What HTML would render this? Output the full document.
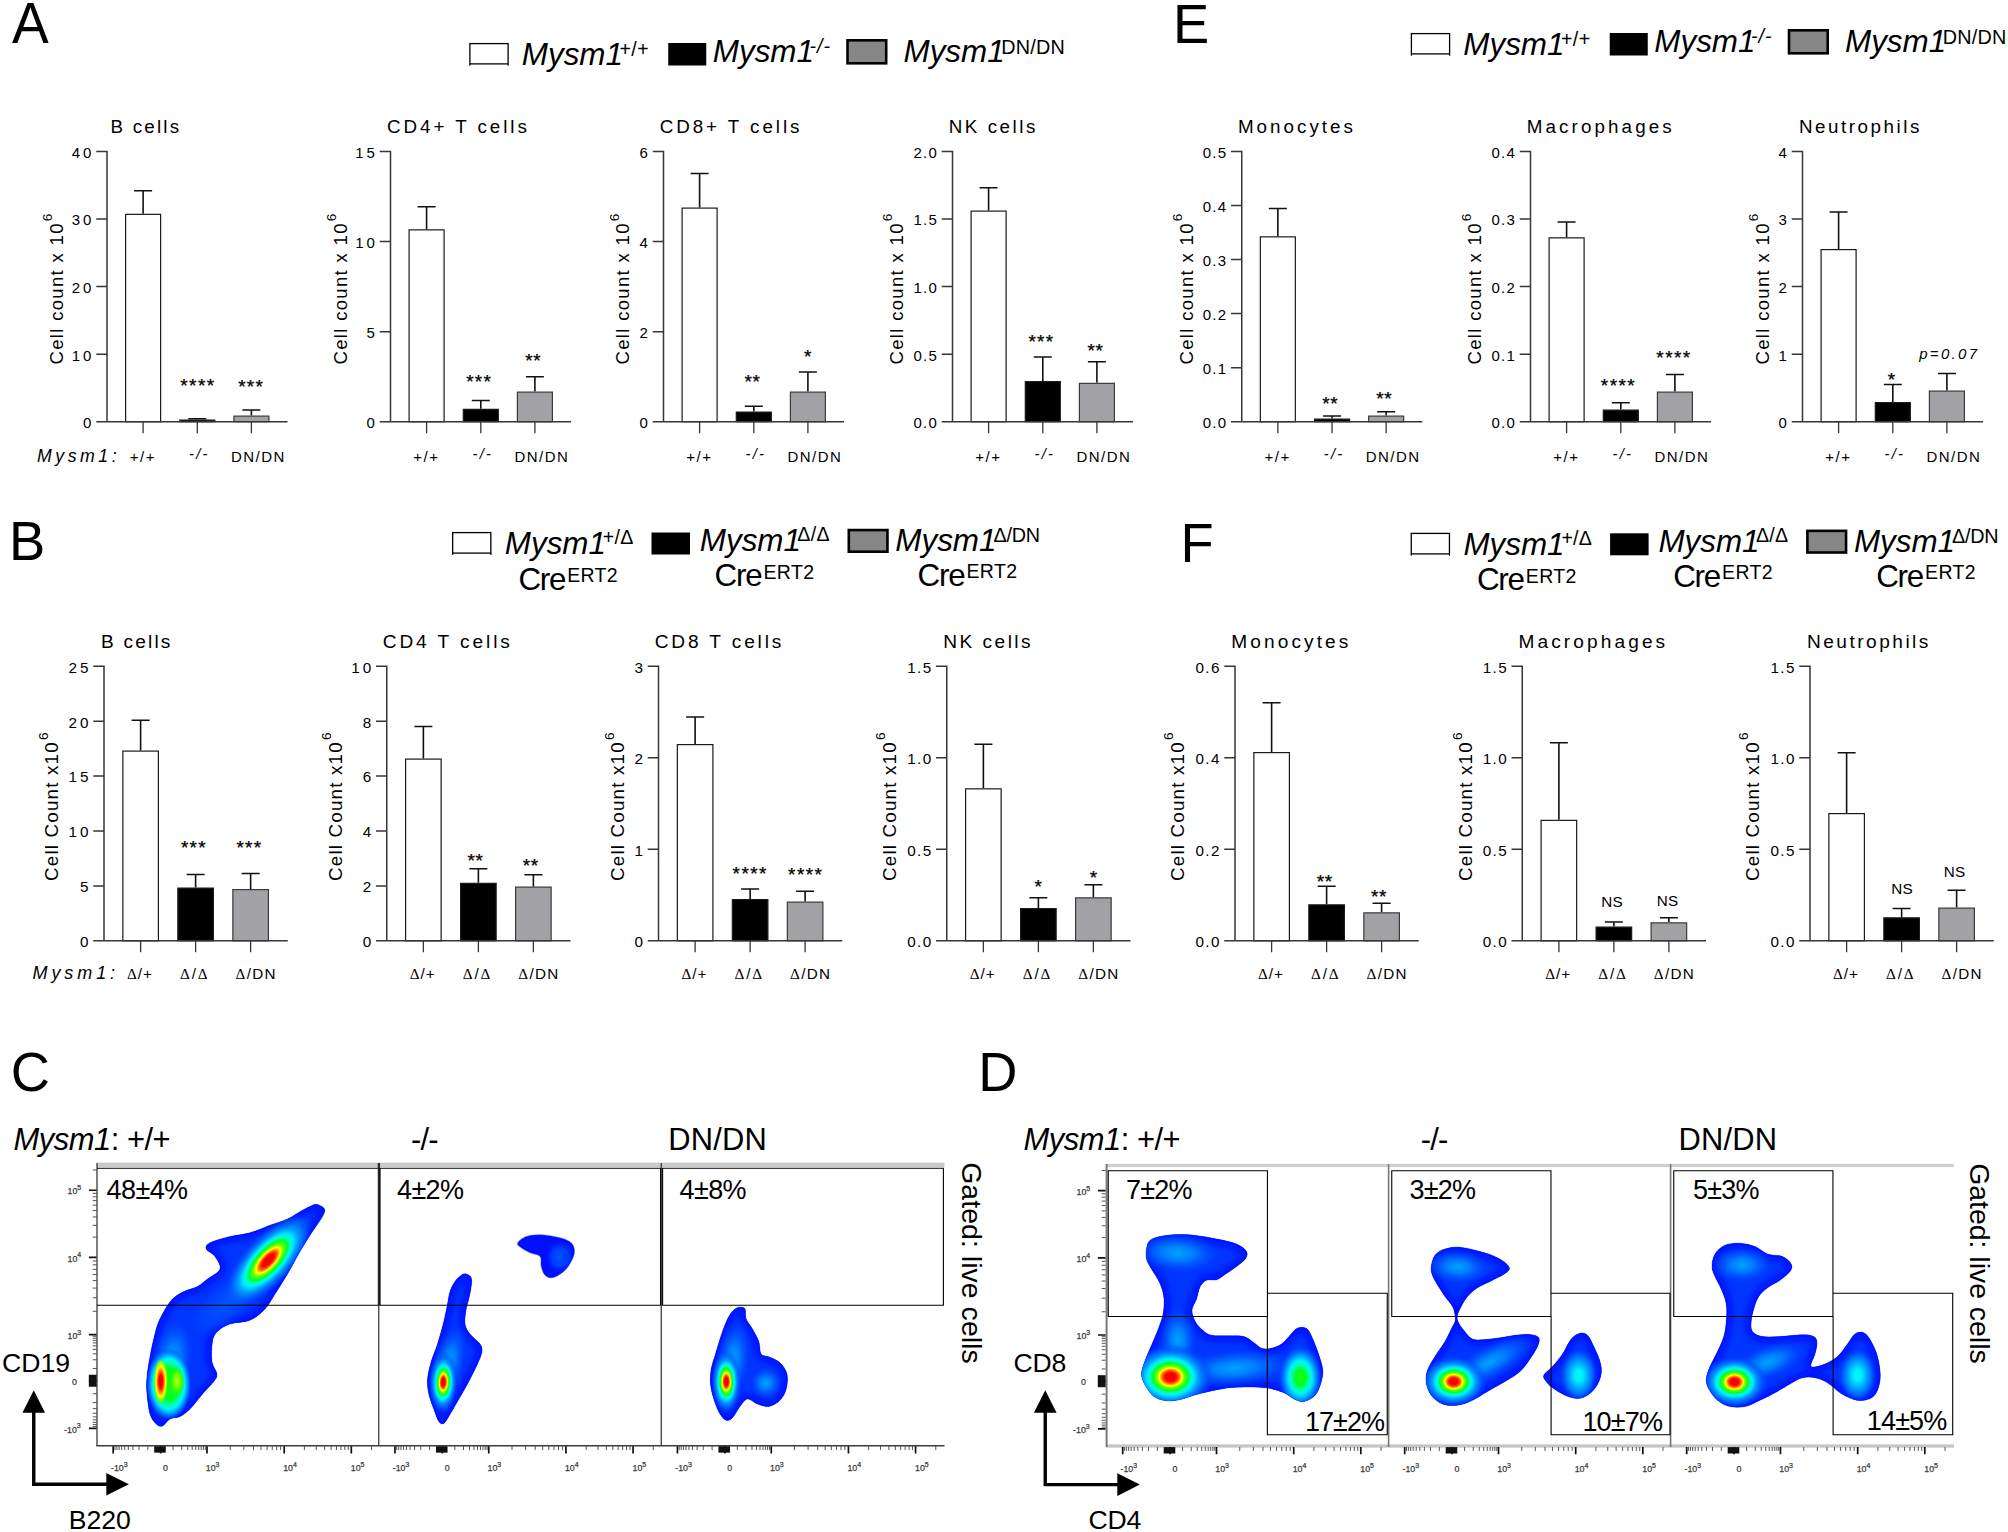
<!DOCTYPE html>
<html lang="en"><head><meta charset="utf-8"><title>Figure</title>
<style>html,body{margin:0;padding:0;background:#fff}svg{display:block}text{white-space:pre}</style>
</head><body>
<svg width="2008" height="1532" viewBox="0 0 2008 1532" font-family="'Liberation Sans', Arial, Helvetica, sans-serif" fill="#000">
<rect width="2008" height="1532" fill="#fff"/>
<path d="M143.10 213.75V190.75M134.10 190.75H152.10" stroke="#111" stroke-width="1.6" fill="none"/>
<rect x="125.60" y="214.35" width="35.00" height="207.35" fill="#fff" stroke="#1a1a1a" stroke-width="1.2"/>
<path d="M197.30 419.50V418.75M188.30 418.75H206.30" stroke="#111" stroke-width="1.6" fill="none"/>
<rect x="179.80" y="420.10" width="35.00" height="1.60" fill="#000" stroke="#1a1a1a" stroke-width="1.2"/>
<path d="M251.40 415.50V410.00M242.40 410.00H260.40" stroke="#111" stroke-width="1.6" fill="none"/>
<rect x="233.90" y="416.10" width="35.00" height="5.60" fill="#a2a2a6" stroke="#3a3a3a" stroke-width="1.2"/>
<path d="M107.00 150.80V421.70M96.25 421.70H287.50M96.25 151.50H107.00M96.25 219.05H107.00M96.25 286.60H107.00M96.25 354.15H107.00" stroke="#363636" stroke-width="1.5" fill="none"/>
<path d="M143.10 421.70V433.20M197.30 421.70V433.20M251.40 421.70V433.20" stroke="#363636" stroke-width="1.3" fill="none"/>
<text x="94.30" y="157.85" font-size="15.0" text-anchor="end" letter-spacing="2.9">40</text>
<text x="94.30" y="225.40" font-size="15.0" text-anchor="end" letter-spacing="2.9">30</text>
<text x="94.30" y="292.95" font-size="15.0" text-anchor="end" letter-spacing="2.9">20</text>
<text x="94.30" y="360.50" font-size="15.0" text-anchor="end" letter-spacing="2.9">10</text>
<text x="94.30" y="428.05" font-size="15.0" text-anchor="end" letter-spacing="2.9">0</text>
<text x="110.45" y="133.40" font-size="18.8" textLength="68.70" lengthAdjust="spacing">B cells</text>
<text x="129.70" y="461.60" font-size="15.0" textLength="24.70" lengthAdjust="spacing">+/+</text>
<text x="189.10" y="459.00" font-size="14.6" font-style="italic" textLength="18.20" lengthAdjust="spacing">-/-</text>
<text x="231.00" y="461.60" font-size="15.0" textLength="53.40" lengthAdjust="spacing">DN/DN</text>
<text x="37.00" y="461.60" font-size="17.7" font-style="italic" textLength="79.60" lengthAdjust="spacing">Mysm1:</text>
<g transform="translate(62.50 364.50) rotate(-90)">
<text x="0.00" y="0.00" font-size="18.5" textLength="141.00" lengthAdjust="spacing">Cell count x 10</text>
<text x="143.20" y="-10.45" font-size="13.5">6</text>
</g>
<text x="180.25" y="392.20" font-size="19.0" textLength="33.90" lengthAdjust="spacing" stroke="#000" stroke-width="0.25">****</text>
<text x="238.20" y="392.50" font-size="19.0" textLength="24.60" lengthAdjust="spacing" stroke="#000" stroke-width="0.25">***</text>
<path d="M426.60 229.25V206.75M417.60 206.75H435.60" stroke="#111" stroke-width="1.6" fill="none"/>
<rect x="409.10" y="229.85" width="35.00" height="191.85" fill="#fff" stroke="#1a1a1a" stroke-width="1.2"/>
<path d="M480.80 408.75V400.50M471.80 400.50H489.80" stroke="#111" stroke-width="1.6" fill="none"/>
<rect x="463.30" y="409.35" width="35.00" height="12.35" fill="#000" stroke="#1a1a1a" stroke-width="1.2"/>
<path d="M534.90 391.50V376.75M525.90 376.75H543.90" stroke="#111" stroke-width="1.6" fill="none"/>
<rect x="517.40" y="392.10" width="35.00" height="29.60" fill="#a2a2a6" stroke="#3a3a3a" stroke-width="1.2"/>
<path d="M390.50 150.80V421.70M379.75 421.70H571.00M379.75 151.50H390.50M379.75 241.57H390.50M379.75 331.63H390.50" stroke="#363636" stroke-width="1.5" fill="none"/>
<path d="M426.60 421.70V433.20M480.80 421.70V433.20M534.90 421.70V433.20" stroke="#363636" stroke-width="1.3" fill="none"/>
<text x="377.80" y="157.85" font-size="15.0" text-anchor="end" letter-spacing="2.9">15</text>
<text x="377.80" y="247.92" font-size="15.0" text-anchor="end" letter-spacing="2.9">10</text>
<text x="377.80" y="337.98" font-size="15.0" text-anchor="end" letter-spacing="2.9">5</text>
<text x="377.80" y="428.05" font-size="15.0" text-anchor="end" letter-spacing="2.9">0</text>
<text x="386.95" y="133.40" font-size="18.8" textLength="139.95" lengthAdjust="spacing">CD4+ T cells</text>
<text x="413.20" y="461.60" font-size="15.0" textLength="24.70" lengthAdjust="spacing">+/+</text>
<text x="472.60" y="459.00" font-size="14.6" font-style="italic" textLength="18.20" lengthAdjust="spacing">-/-</text>
<text x="514.50" y="461.60" font-size="15.0" textLength="53.40" lengthAdjust="spacing">DN/DN</text>
<g transform="translate(346.50 364.50) rotate(-90)">
<text x="0.00" y="0.00" font-size="18.5" textLength="141.00" lengthAdjust="spacing">Cell count x 10</text>
<text x="143.20" y="-10.45" font-size="13.5">6</text>
</g>
<text x="466.20" y="388.20" font-size="19.0" textLength="24.60" lengthAdjust="spacing" stroke="#000" stroke-width="0.25">***</text>
<text x="525.35" y="367.20" font-size="19.0" textLength="15.30" lengthAdjust="spacing" stroke="#000" stroke-width="0.25">**</text>
<path d="M699.60 207.50V173.50M690.60 173.50H708.60" stroke="#111" stroke-width="1.6" fill="none"/>
<rect x="682.10" y="208.10" width="35.00" height="213.60" fill="#fff" stroke="#1a1a1a" stroke-width="1.2"/>
<path d="M753.80 411.50V406.25M744.80 406.25H762.80" stroke="#111" stroke-width="1.6" fill="none"/>
<rect x="736.30" y="412.10" width="35.00" height="9.60" fill="#000" stroke="#1a1a1a" stroke-width="1.2"/>
<path d="M807.90 391.50V372.00M798.90 372.00H816.90" stroke="#111" stroke-width="1.6" fill="none"/>
<rect x="790.40" y="392.10" width="35.00" height="29.60" fill="#a2a2a6" stroke="#3a3a3a" stroke-width="1.2"/>
<path d="M663.50 150.80V421.70M652.75 421.70H844.00M652.75 151.50H663.50M652.75 241.57H663.50M652.75 331.63H663.50" stroke="#363636" stroke-width="1.5" fill="none"/>
<path d="M699.60 421.70V433.20M753.80 421.70V433.20M807.90 421.70V433.20" stroke="#363636" stroke-width="1.3" fill="none"/>
<text x="650.80" y="157.85" font-size="15.0" text-anchor="end" letter-spacing="2.9">6</text>
<text x="650.80" y="247.92" font-size="15.0" text-anchor="end" letter-spacing="2.9">4</text>
<text x="650.80" y="337.98" font-size="15.0" text-anchor="end" letter-spacing="2.9">2</text>
<text x="650.80" y="428.05" font-size="15.0" text-anchor="end" letter-spacing="2.9">0</text>
<text x="659.70" y="133.40" font-size="18.8" textLength="139.70" lengthAdjust="spacing">CD8+ T cells</text>
<text x="686.20" y="461.60" font-size="15.0" textLength="24.70" lengthAdjust="spacing">+/+</text>
<text x="745.60" y="459.00" font-size="14.6" font-style="italic" textLength="18.20" lengthAdjust="spacing">-/-</text>
<text x="787.50" y="461.60" font-size="15.0" textLength="53.40" lengthAdjust="spacing">DN/DN</text>
<g transform="translate(629.25 364.50) rotate(-90)">
<text x="0.00" y="0.00" font-size="18.5" textLength="141.00" lengthAdjust="spacing">Cell count x 10</text>
<text x="143.20" y="-10.45" font-size="13.5">6</text>
</g>
<text x="744.60" y="388.20" font-size="19.0" textLength="15.30" lengthAdjust="spacing" stroke="#000" stroke-width="0.25">**</text>
<text x="804.00" y="363.20" font-size="19.0" stroke="#000" stroke-width="0.25">*</text>
<path d="M988.60 210.50V187.75M979.60 187.75H997.60" stroke="#111" stroke-width="1.6" fill="none"/>
<rect x="971.10" y="211.10" width="35.00" height="210.60" fill="#fff" stroke="#1a1a1a" stroke-width="1.2"/>
<path d="M1042.80 381.00V357.00M1033.80 357.00H1051.80" stroke="#111" stroke-width="1.6" fill="none"/>
<rect x="1025.30" y="381.60" width="35.00" height="40.10" fill="#000" stroke="#1a1a1a" stroke-width="1.2"/>
<path d="M1096.90 382.75V361.75M1087.90 361.75H1105.90" stroke="#111" stroke-width="1.6" fill="none"/>
<rect x="1079.40" y="383.35" width="35.00" height="38.35" fill="#a2a2a6" stroke="#3a3a3a" stroke-width="1.2"/>
<path d="M952.50 150.80V421.70M941.75 421.70H1133.00M941.75 151.50H952.50M941.75 219.05H952.50M941.75 286.60H952.50M941.75 354.15H952.50" stroke="#363636" stroke-width="1.5" fill="none"/>
<path d="M988.60 421.70V433.20M1042.80 421.70V433.20M1096.90 421.70V433.20" stroke="#363636" stroke-width="1.3" fill="none"/>
<text x="938.20" y="157.85" font-size="15.0" text-anchor="end" letter-spacing="1.3">2.0</text>
<text x="938.20" y="225.40" font-size="15.0" text-anchor="end" letter-spacing="1.3">1.5</text>
<text x="938.20" y="292.95" font-size="15.0" text-anchor="end" letter-spacing="1.3">1.0</text>
<text x="938.20" y="360.50" font-size="15.0" text-anchor="end" letter-spacing="1.3">0.5</text>
<text x="938.20" y="428.05" font-size="15.0" text-anchor="end" letter-spacing="1.3">0.0</text>
<text x="948.70" y="133.40" font-size="18.8" textLength="86.70" lengthAdjust="spacing">NK cells</text>
<text x="975.20" y="461.60" font-size="15.0" textLength="24.70" lengthAdjust="spacing">+/+</text>
<text x="1034.60" y="459.00" font-size="14.6" font-style="italic" textLength="18.20" lengthAdjust="spacing">-/-</text>
<text x="1076.50" y="461.60" font-size="15.0" textLength="53.40" lengthAdjust="spacing">DN/DN</text>
<g transform="translate(902.50 364.50) rotate(-90)">
<text x="0.00" y="0.00" font-size="18.5" textLength="141.00" lengthAdjust="spacing">Cell count x 10</text>
<text x="143.20" y="-10.45" font-size="13.5">6</text>
</g>
<text x="1028.45" y="348.45" font-size="19.0" textLength="24.60" lengthAdjust="spacing" stroke="#000" stroke-width="0.25">***</text>
<text x="1087.60" y="357.20" font-size="19.0" textLength="15.30" lengthAdjust="spacing" stroke="#000" stroke-width="0.25">**</text>
<path d="M1277.85 236.25V208.50M1268.85 208.50H1286.85" stroke="#111" stroke-width="1.6" fill="none"/>
<rect x="1260.35" y="236.85" width="35.00" height="184.85" fill="#fff" stroke="#1a1a1a" stroke-width="1.2"/>
<path d="M1332.05 418.50V416.00M1323.05 416.00H1341.05" stroke="#111" stroke-width="1.6" fill="none"/>
<rect x="1314.55" y="419.10" width="35.00" height="2.60" fill="#000" stroke="#1a1a1a" stroke-width="1.2"/>
<path d="M1386.15 415.50V411.75M1377.15 411.75H1395.15" stroke="#111" stroke-width="1.6" fill="none"/>
<rect x="1368.65" y="416.10" width="35.00" height="5.60" fill="#a2a2a6" stroke="#3a3a3a" stroke-width="1.2"/>
<path d="M1241.75 150.80V421.70M1231.00 421.70H1422.25M1231.00 151.50H1241.75M1231.00 205.54H1241.75M1231.00 259.58H1241.75M1231.00 313.62H1241.75M1231.00 367.66H1241.75" stroke="#363636" stroke-width="1.5" fill="none"/>
<path d="M1277.85 421.70V433.20M1332.05 421.70V433.20M1386.15 421.70V433.20" stroke="#363636" stroke-width="1.3" fill="none"/>
<text x="1227.45" y="157.85" font-size="15.0" text-anchor="end" letter-spacing="1.3">0.5</text>
<text x="1227.45" y="211.89" font-size="15.0" text-anchor="end" letter-spacing="1.3">0.4</text>
<text x="1227.45" y="265.93" font-size="15.0" text-anchor="end" letter-spacing="1.3">0.3</text>
<text x="1227.45" y="319.97" font-size="15.0" text-anchor="end" letter-spacing="1.3">0.2</text>
<text x="1227.45" y="374.01" font-size="15.0" text-anchor="end" letter-spacing="1.3">0.1</text>
<text x="1227.45" y="428.05" font-size="15.0" text-anchor="end" letter-spacing="1.3">0.0</text>
<text x="1237.95" y="133.40" font-size="18.8" textLength="114.95" lengthAdjust="spacing">Monocytes</text>
<text x="1264.45" y="461.60" font-size="15.0" textLength="24.70" lengthAdjust="spacing">+/+</text>
<text x="1323.85" y="459.00" font-size="14.6" font-style="italic" textLength="18.20" lengthAdjust="spacing">-/-</text>
<text x="1365.75" y="461.60" font-size="15.0" textLength="53.40" lengthAdjust="spacing">DN/DN</text>
<g transform="translate(1192.50 364.50) rotate(-90)">
<text x="0.00" y="0.00" font-size="18.5" textLength="141.00" lengthAdjust="spacing">Cell count x 10</text>
<text x="143.20" y="-10.45" font-size="13.5">6</text>
</g>
<text x="1322.35" y="410.20" font-size="19.0" textLength="15.30" lengthAdjust="spacing" stroke="#000" stroke-width="0.25">**</text>
<text x="1376.35" y="405.20" font-size="19.0" textLength="15.30" lengthAdjust="spacing" stroke="#000" stroke-width="0.25">**</text>
<path d="M1566.60 237.25V222.00M1557.60 222.00H1575.60" stroke="#111" stroke-width="1.6" fill="none"/>
<rect x="1549.10" y="237.85" width="35.00" height="183.85" fill="#fff" stroke="#1a1a1a" stroke-width="1.2"/>
<path d="M1620.80 409.50V402.75M1611.80 402.75H1629.80" stroke="#111" stroke-width="1.6" fill="none"/>
<rect x="1603.30" y="410.10" width="35.00" height="11.60" fill="#000" stroke="#1a1a1a" stroke-width="1.2"/>
<path d="M1674.90 391.50V374.50M1665.90 374.50H1683.90" stroke="#111" stroke-width="1.6" fill="none"/>
<rect x="1657.40" y="392.10" width="35.00" height="29.60" fill="#a2a2a6" stroke="#3a3a3a" stroke-width="1.2"/>
<path d="M1530.50 150.80V421.70M1519.75 421.70H1711.00M1519.75 151.50H1530.50M1519.75 219.05H1530.50M1519.75 286.60H1530.50M1519.75 354.15H1530.50" stroke="#363636" stroke-width="1.5" fill="none"/>
<path d="M1566.60 421.70V433.20M1620.80 421.70V433.20M1674.90 421.70V433.20" stroke="#363636" stroke-width="1.3" fill="none"/>
<text x="1516.20" y="157.85" font-size="15.0" text-anchor="end" letter-spacing="1.3">0.4</text>
<text x="1516.20" y="225.40" font-size="15.0" text-anchor="end" letter-spacing="1.3">0.3</text>
<text x="1516.20" y="292.95" font-size="15.0" text-anchor="end" letter-spacing="1.3">0.2</text>
<text x="1516.20" y="360.50" font-size="15.0" text-anchor="end" letter-spacing="1.3">0.1</text>
<text x="1516.20" y="428.05" font-size="15.0" text-anchor="end" letter-spacing="1.3">0.0</text>
<text x="1526.70" y="133.40" font-size="18.8" textLength="144.95" lengthAdjust="spacing">Macrophages</text>
<text x="1553.20" y="461.60" font-size="15.0" textLength="24.70" lengthAdjust="spacing">+/+</text>
<text x="1612.60" y="459.00" font-size="14.6" font-style="italic" textLength="18.20" lengthAdjust="spacing">-/-</text>
<text x="1654.50" y="461.60" font-size="15.0" textLength="53.40" lengthAdjust="spacing">DN/DN</text>
<g transform="translate(1481.25 364.50) rotate(-90)">
<text x="0.00" y="0.00" font-size="18.5" textLength="141.00" lengthAdjust="spacing">Cell count x 10</text>
<text x="143.20" y="-10.45" font-size="13.5">6</text>
</g>
<text x="1600.80" y="392.20" font-size="19.0" textLength="33.90" lengthAdjust="spacing" stroke="#000" stroke-width="0.25">****</text>
<text x="1656.30" y="363.70" font-size="19.0" textLength="33.90" lengthAdjust="spacing" stroke="#000" stroke-width="0.25">****</text>
<path d="M1838.60 249.00V212.00M1829.60 212.00H1847.60" stroke="#111" stroke-width="1.6" fill="none"/>
<rect x="1821.10" y="249.60" width="35.00" height="172.10" fill="#fff" stroke="#1a1a1a" stroke-width="1.2"/>
<path d="M1892.80 402.00V384.50M1883.80 384.50H1901.80" stroke="#111" stroke-width="1.6" fill="none"/>
<rect x="1875.30" y="402.60" width="35.00" height="19.10" fill="#000" stroke="#1a1a1a" stroke-width="1.2"/>
<path d="M1946.90 390.50V373.50M1937.90 373.50H1955.90" stroke="#111" stroke-width="1.6" fill="none"/>
<rect x="1929.40" y="391.10" width="35.00" height="30.60" fill="#a2a2a6" stroke="#3a3a3a" stroke-width="1.2"/>
<path d="M1802.50 150.80V421.70M1791.75 421.70H1983.00M1791.75 151.50H1802.50M1791.75 219.05H1802.50M1791.75 286.60H1802.50M1791.75 354.15H1802.50" stroke="#363636" stroke-width="1.5" fill="none"/>
<path d="M1838.60 421.70V433.20M1892.80 421.70V433.20M1946.90 421.70V433.20" stroke="#363636" stroke-width="1.3" fill="none"/>
<text x="1789.80" y="157.85" font-size="15.0" text-anchor="end" letter-spacing="2.9">4</text>
<text x="1789.80" y="225.40" font-size="15.0" text-anchor="end" letter-spacing="2.9">3</text>
<text x="1789.80" y="292.95" font-size="15.0" text-anchor="end" letter-spacing="2.9">2</text>
<text x="1789.80" y="360.50" font-size="15.0" text-anchor="end" letter-spacing="2.9">1</text>
<text x="1789.80" y="428.05" font-size="15.0" text-anchor="end" letter-spacing="2.9">0</text>
<text x="1798.95" y="133.40" font-size="18.8" textLength="120.45" lengthAdjust="spacing">Neutrophils</text>
<text x="1825.20" y="461.60" font-size="15.0" textLength="24.70" lengthAdjust="spacing">+/+</text>
<text x="1884.60" y="459.00" font-size="14.6" font-style="italic" textLength="18.20" lengthAdjust="spacing">-/-</text>
<text x="1926.50" y="461.60" font-size="15.0" textLength="53.40" lengthAdjust="spacing">DN/DN</text>
<g transform="translate(1768.50 364.50) rotate(-90)">
<text x="0.00" y="0.00" font-size="18.5" textLength="141.00" lengthAdjust="spacing">Cell count x 10</text>
<text x="143.20" y="-10.45" font-size="13.5">6</text>
</g>
<text x="1887.75" y="385.95" font-size="19.0" stroke="#000" stroke-width="0.25">*</text>
<text x="1919.15" y="358.50" font-size="15.0" font-style="italic" textLength="57.95" lengthAdjust="spacing">p=0.07</text>
<path d="M140.62 750.50V720.25M131.62 720.25H149.62" stroke="#111" stroke-width="1.6" fill="none"/>
<rect x="122.85" y="751.10" width="35.55" height="189.70" fill="#fff" stroke="#1a1a1a" stroke-width="1.2"/>
<path d="M195.62 887.50V874.50M186.62 874.50H204.62" stroke="#111" stroke-width="1.6" fill="none"/>
<rect x="177.85" y="888.10" width="35.55" height="52.70" fill="#000" stroke="#1a1a1a" stroke-width="1.2"/>
<path d="M250.62 889.00V873.50M241.62 873.50H259.62" stroke="#111" stroke-width="1.6" fill="none"/>
<rect x="232.85" y="889.60" width="35.55" height="51.20" fill="#a2a2a6" stroke="#3a3a3a" stroke-width="1.2"/>
<path d="M104.00 665.60V940.80M93.25 940.80H287.75M93.25 666.30H104.00M93.25 721.20H104.00M93.25 776.10H104.00M93.25 831.00H104.00M93.25 885.90H104.00" stroke="#363636" stroke-width="1.5" fill="none"/>
<path d="M140.62 940.80V952.30M195.62 940.80V952.30M250.62 940.80V952.30" stroke="#363636" stroke-width="1.3" fill="none"/>
<text x="91.30" y="672.65" font-size="15.25" text-anchor="end" letter-spacing="2.9">25</text>
<text x="91.30" y="727.55" font-size="15.25" text-anchor="end" letter-spacing="2.9">20</text>
<text x="91.30" y="782.45" font-size="15.25" text-anchor="end" letter-spacing="2.9">15</text>
<text x="91.30" y="837.35" font-size="15.25" text-anchor="end" letter-spacing="2.9">10</text>
<text x="91.30" y="892.25" font-size="15.25" text-anchor="end" letter-spacing="2.9">5</text>
<text x="91.30" y="947.15" font-size="15.25" text-anchor="end" letter-spacing="2.9">0</text>
<text x="100.95" y="647.90" font-size="19.1" textLength="69.45" lengthAdjust="spacing">B cells</text>
<text x="127.00" y="979.10" font-size="15.25" textLength="24.90" lengthAdjust="spacing"><tspan font-family="'Liberation Serif', 'DejaVu Serif', serif">Δ</tspan>/+</text>
<text x="180.00" y="979.10" font-size="15.25" textLength="27.60" lengthAdjust="spacing"><tspan font-family="'Liberation Serif', 'DejaVu Serif', serif">Δ</tspan>/<tspan font-family="'Liberation Serif', 'DejaVu Serif', serif">Δ</tspan></text>
<text x="235.50" y="979.10" font-size="15.25" textLength="40.10" lengthAdjust="spacing"><tspan font-family="'Liberation Serif', 'DejaVu Serif', serif">Δ</tspan>/DN</text>
<text x="32.50" y="979.10" font-size="18.0" font-style="italic" textLength="82.60" lengthAdjust="spacing">Mysm1:</text>
<g transform="translate(58.25 881.00) rotate(-90)">
<text x="0.00" y="0.00" font-size="18.8" textLength="138.70" lengthAdjust="spacing">Cell Count x10</text>
<text x="140.90" y="-10.60" font-size="13.7">6</text>
</g>
<text x="180.95" y="854.45" font-size="19.0" textLength="24.60" lengthAdjust="spacing" stroke="#000" stroke-width="0.25">***</text>
<text x="236.45" y="853.70" font-size="19.0" textLength="24.60" lengthAdjust="spacing" stroke="#000" stroke-width="0.25">***</text>
<path d="M423.38 758.50V726.50M414.38 726.50H432.38" stroke="#111" stroke-width="1.6" fill="none"/>
<rect x="405.60" y="759.10" width="35.55" height="181.70" fill="#fff" stroke="#1a1a1a" stroke-width="1.2"/>
<path d="M478.38 882.75V868.75M469.38 868.75H487.38" stroke="#111" stroke-width="1.6" fill="none"/>
<rect x="460.60" y="883.35" width="35.55" height="57.45" fill="#000" stroke="#1a1a1a" stroke-width="1.2"/>
<path d="M533.38 886.50V874.75M524.38 874.75H542.38" stroke="#111" stroke-width="1.6" fill="none"/>
<rect x="515.60" y="887.10" width="35.55" height="53.70" fill="#a2a2a6" stroke="#3a3a3a" stroke-width="1.2"/>
<path d="M386.75 665.60V940.80M376.00 940.80H570.50M376.00 666.30H386.75M376.00 721.20H386.75M376.00 776.10H386.75M376.00 831.00H386.75M376.00 885.90H386.75" stroke="#363636" stroke-width="1.5" fill="none"/>
<path d="M423.38 940.80V952.30M478.38 940.80V952.30M533.38 940.80V952.30" stroke="#363636" stroke-width="1.3" fill="none"/>
<text x="374.05" y="672.65" font-size="15.25" text-anchor="end" letter-spacing="2.9">10</text>
<text x="374.05" y="727.55" font-size="15.25" text-anchor="end" letter-spacing="2.9">8</text>
<text x="374.05" y="782.45" font-size="15.25" text-anchor="end" letter-spacing="2.9">6</text>
<text x="374.05" y="837.35" font-size="15.25" text-anchor="end" letter-spacing="2.9">4</text>
<text x="374.05" y="892.25" font-size="15.25" text-anchor="end" letter-spacing="2.9">2</text>
<text x="374.05" y="947.15" font-size="15.25" text-anchor="end" letter-spacing="2.9">0</text>
<text x="382.70" y="647.90" font-size="19.1" textLength="127.20" lengthAdjust="spacing">CD4 T cells</text>
<text x="409.75" y="979.10" font-size="15.25" textLength="24.90" lengthAdjust="spacing"><tspan font-family="'Liberation Serif', 'DejaVu Serif', serif">Δ</tspan>/+</text>
<text x="462.75" y="979.10" font-size="15.25" textLength="27.60" lengthAdjust="spacing"><tspan font-family="'Liberation Serif', 'DejaVu Serif', serif">Δ</tspan>/<tspan font-family="'Liberation Serif', 'DejaVu Serif', serif">Δ</tspan></text>
<text x="518.25" y="979.10" font-size="15.25" textLength="40.10" lengthAdjust="spacing"><tspan font-family="'Liberation Serif', 'DejaVu Serif', serif">Δ</tspan>/DN</text>
<g transform="translate(341.50 881.00) rotate(-90)">
<text x="0.00" y="0.00" font-size="18.8" textLength="138.70" lengthAdjust="spacing">Cell Count x10</text>
<text x="140.90" y="-10.60" font-size="13.7">6</text>
</g>
<text x="467.60" y="867.20" font-size="19.0" textLength="15.30" lengthAdjust="spacing" stroke="#000" stroke-width="0.25">**</text>
<text x="522.85" y="872.20" font-size="19.0" textLength="15.30" lengthAdjust="spacing" stroke="#000" stroke-width="0.25">**</text>
<path d="M695.12 744.00V717.00M686.12 717.00H704.12" stroke="#111" stroke-width="1.6" fill="none"/>
<rect x="677.35" y="744.60" width="35.55" height="196.20" fill="#fff" stroke="#1a1a1a" stroke-width="1.2"/>
<path d="M750.12 899.00V889.00M741.12 889.00H759.12" stroke="#111" stroke-width="1.6" fill="none"/>
<rect x="732.35" y="899.60" width="35.55" height="41.20" fill="#000" stroke="#1a1a1a" stroke-width="1.2"/>
<path d="M805.12 901.50V891.25M796.12 891.25H814.12" stroke="#111" stroke-width="1.6" fill="none"/>
<rect x="787.35" y="902.10" width="35.55" height="38.70" fill="#a2a2a6" stroke="#3a3a3a" stroke-width="1.2"/>
<path d="M658.50 665.60V940.80M647.75 940.80H842.25M647.75 666.30H658.50M647.75 757.80H658.50M647.75 849.30H658.50" stroke="#363636" stroke-width="1.5" fill="none"/>
<path d="M695.12 940.80V952.30M750.12 940.80V952.30M805.12 940.80V952.30" stroke="#363636" stroke-width="1.3" fill="none"/>
<text x="645.80" y="672.65" font-size="15.25" text-anchor="end" letter-spacing="2.9">3</text>
<text x="645.80" y="764.15" font-size="15.25" text-anchor="end" letter-spacing="2.9">2</text>
<text x="645.80" y="855.65" font-size="15.25" text-anchor="end" letter-spacing="2.9">1</text>
<text x="645.80" y="947.15" font-size="15.25" text-anchor="end" letter-spacing="2.9">0</text>
<text x="654.70" y="647.90" font-size="19.1" textLength="126.70" lengthAdjust="spacing">CD8 T cells</text>
<text x="681.50" y="979.10" font-size="15.25" textLength="24.90" lengthAdjust="spacing"><tspan font-family="'Liberation Serif', 'DejaVu Serif', serif">Δ</tspan>/+</text>
<text x="734.50" y="979.10" font-size="15.25" textLength="27.60" lengthAdjust="spacing"><tspan font-family="'Liberation Serif', 'DejaVu Serif', serif">Δ</tspan>/<tspan font-family="'Liberation Serif', 'DejaVu Serif', serif">Δ</tspan></text>
<text x="790.00" y="979.10" font-size="15.25" textLength="40.10" lengthAdjust="spacing"><tspan font-family="'Liberation Serif', 'DejaVu Serif', serif">Δ</tspan>/DN</text>
<g transform="translate(624.25 881.00) rotate(-90)">
<text x="0.00" y="0.00" font-size="18.8" textLength="138.70" lengthAdjust="spacing">Cell Count x10</text>
<text x="140.90" y="-10.60" font-size="13.7">6</text>
</g>
<text x="732.55" y="880.20" font-size="19.0" textLength="33.90" lengthAdjust="spacing" stroke="#000" stroke-width="0.25">****</text>
<text x="788.05" y="880.70" font-size="19.0" textLength="33.90" lengthAdjust="spacing" stroke="#000" stroke-width="0.25">****</text>
<path d="M983.38 788.25V744.25M974.38 744.25H992.38" stroke="#111" stroke-width="1.6" fill="none"/>
<rect x="965.60" y="788.85" width="35.55" height="151.95" fill="#fff" stroke="#1a1a1a" stroke-width="1.2"/>
<path d="M1038.38 908.00V897.75M1029.38 897.75H1047.38" stroke="#111" stroke-width="1.6" fill="none"/>
<rect x="1020.60" y="908.60" width="35.55" height="32.20" fill="#000" stroke="#1a1a1a" stroke-width="1.2"/>
<path d="M1093.38 897.25V884.75M1084.38 884.75H1102.38" stroke="#111" stroke-width="1.6" fill="none"/>
<rect x="1075.60" y="897.85" width="35.55" height="42.95" fill="#a2a2a6" stroke="#3a3a3a" stroke-width="1.2"/>
<path d="M946.75 665.60V940.80M936.00 940.80H1130.50M936.00 666.30H946.75M936.00 757.80H946.75M936.00 849.30H946.75" stroke="#363636" stroke-width="1.5" fill="none"/>
<path d="M983.38 940.80V952.30M1038.38 940.80V952.30M1093.38 940.80V952.30" stroke="#363636" stroke-width="1.3" fill="none"/>
<text x="932.45" y="672.65" font-size="15.25" text-anchor="end" letter-spacing="1.3">1.5</text>
<text x="932.45" y="764.15" font-size="15.25" text-anchor="end" letter-spacing="1.3">1.0</text>
<text x="932.45" y="855.65" font-size="15.25" text-anchor="end" letter-spacing="1.3">0.5</text>
<text x="932.45" y="947.15" font-size="15.25" text-anchor="end" letter-spacing="1.3">0.0</text>
<text x="943.20" y="647.90" font-size="19.1" textLength="87.45" lengthAdjust="spacing">NK cells</text>
<text x="969.75" y="979.10" font-size="15.25" textLength="24.90" lengthAdjust="spacing"><tspan font-family="'Liberation Serif', 'DejaVu Serif', serif">Δ</tspan>/+</text>
<text x="1022.75" y="979.10" font-size="15.25" textLength="27.60" lengthAdjust="spacing"><tspan font-family="'Liberation Serif', 'DejaVu Serif', serif">Δ</tspan>/<tspan font-family="'Liberation Serif', 'DejaVu Serif', serif">Δ</tspan></text>
<text x="1078.25" y="979.10" font-size="15.25" textLength="40.10" lengthAdjust="spacing"><tspan font-family="'Liberation Serif', 'DejaVu Serif', serif">Δ</tspan>/DN</text>
<g transform="translate(896.00 881.00) rotate(-90)">
<text x="0.00" y="0.00" font-size="18.8" textLength="138.70" lengthAdjust="spacing">Cell Count x10</text>
<text x="140.90" y="-10.60" font-size="13.7">6</text>
</g>
<text x="1034.50" y="893.45" font-size="19.0" stroke="#000" stroke-width="0.25">*</text>
<text x="1089.75" y="884.45" font-size="19.0" stroke="#000" stroke-width="0.25">*</text>
<path d="M1271.62 752.00V702.75M1262.62 702.75H1280.62" stroke="#111" stroke-width="1.6" fill="none"/>
<rect x="1253.85" y="752.60" width="35.55" height="188.20" fill="#fff" stroke="#1a1a1a" stroke-width="1.2"/>
<path d="M1326.62 904.25V886.25M1317.62 886.25H1335.62" stroke="#111" stroke-width="1.6" fill="none"/>
<rect x="1308.85" y="904.85" width="35.55" height="35.95" fill="#000" stroke="#1a1a1a" stroke-width="1.2"/>
<path d="M1381.62 912.25V903.25M1372.62 903.25H1390.62" stroke="#111" stroke-width="1.6" fill="none"/>
<rect x="1363.85" y="912.85" width="35.55" height="27.95" fill="#a2a2a6" stroke="#3a3a3a" stroke-width="1.2"/>
<path d="M1235.00 665.60V940.80M1224.25 940.80H1418.75M1224.25 666.30H1235.00M1224.25 757.80H1235.00M1224.25 849.30H1235.00" stroke="#363636" stroke-width="1.5" fill="none"/>
<path d="M1271.62 940.80V952.30M1326.62 940.80V952.30M1381.62 940.80V952.30" stroke="#363636" stroke-width="1.3" fill="none"/>
<text x="1220.70" y="672.65" font-size="15.25" text-anchor="end" letter-spacing="1.3">0.6</text>
<text x="1220.70" y="764.15" font-size="15.25" text-anchor="end" letter-spacing="1.3">0.4</text>
<text x="1220.70" y="855.65" font-size="15.25" text-anchor="end" letter-spacing="1.3">0.2</text>
<text x="1220.70" y="947.15" font-size="15.25" text-anchor="end" letter-spacing="1.3">0.0</text>
<text x="1231.20" y="647.90" font-size="19.1" textLength="117.20" lengthAdjust="spacing">Monocytes</text>
<text x="1258.00" y="979.10" font-size="15.25" textLength="24.90" lengthAdjust="spacing"><tspan font-family="'Liberation Serif', 'DejaVu Serif', serif">Δ</tspan>/+</text>
<text x="1311.00" y="979.10" font-size="15.25" textLength="27.60" lengthAdjust="spacing"><tspan font-family="'Liberation Serif', 'DejaVu Serif', serif">Δ</tspan>/<tspan font-family="'Liberation Serif', 'DejaVu Serif', serif">Δ</tspan></text>
<text x="1366.50" y="979.10" font-size="15.25" textLength="40.10" lengthAdjust="spacing"><tspan font-family="'Liberation Serif', 'DejaVu Serif', serif">Δ</tspan>/DN</text>
<g transform="translate(1183.75 881.00) rotate(-90)">
<text x="0.00" y="0.00" font-size="18.8" textLength="138.70" lengthAdjust="spacing">Cell Count x10</text>
<text x="140.90" y="-10.60" font-size="13.7">6</text>
</g>
<text x="1316.85" y="887.70" font-size="19.0" textLength="15.30" lengthAdjust="spacing" stroke="#000" stroke-width="0.25">**</text>
<text x="1371.10" y="903.20" font-size="19.0" textLength="15.30" lengthAdjust="spacing" stroke="#000" stroke-width="0.25">**</text>
<path d="M1558.88 819.75V742.75M1549.88 742.75H1567.88" stroke="#111" stroke-width="1.6" fill="none"/>
<rect x="1541.10" y="820.35" width="35.55" height="120.45" fill="#fff" stroke="#1a1a1a" stroke-width="1.2"/>
<path d="M1613.88 926.50V922.00M1604.88 922.00H1622.88" stroke="#111" stroke-width="1.6" fill="none"/>
<rect x="1596.10" y="927.10" width="35.55" height="13.70" fill="#000" stroke="#1a1a1a" stroke-width="1.2"/>
<path d="M1668.88 922.25V917.75M1659.88 917.75H1677.88" stroke="#111" stroke-width="1.6" fill="none"/>
<rect x="1651.10" y="922.85" width="35.55" height="17.95" fill="#a2a2a6" stroke="#3a3a3a" stroke-width="1.2"/>
<path d="M1522.25 665.60V940.80M1511.50 940.80H1706.00M1511.50 666.30H1522.25M1511.50 757.80H1522.25M1511.50 849.30H1522.25" stroke="#363636" stroke-width="1.5" fill="none"/>
<path d="M1558.88 940.80V952.30M1613.88 940.80V952.30M1668.88 940.80V952.30" stroke="#363636" stroke-width="1.3" fill="none"/>
<text x="1507.95" y="672.65" font-size="15.25" text-anchor="end" letter-spacing="1.3">1.5</text>
<text x="1507.95" y="764.15" font-size="15.25" text-anchor="end" letter-spacing="1.3">1.0</text>
<text x="1507.95" y="855.65" font-size="15.25" text-anchor="end" letter-spacing="1.3">0.5</text>
<text x="1507.95" y="947.15" font-size="15.25" text-anchor="end" letter-spacing="1.3">0.0</text>
<text x="1518.45" y="647.90" font-size="19.1" textLength="146.70" lengthAdjust="spacing">Macrophages</text>
<text x="1545.25" y="979.10" font-size="15.25" textLength="24.90" lengthAdjust="spacing"><tspan font-family="'Liberation Serif', 'DejaVu Serif', serif">Δ</tspan>/+</text>
<text x="1598.25" y="979.10" font-size="15.25" textLength="27.60" lengthAdjust="spacing"><tspan font-family="'Liberation Serif', 'DejaVu Serif', serif">Δ</tspan>/<tspan font-family="'Liberation Serif', 'DejaVu Serif', serif">Δ</tspan></text>
<text x="1653.75" y="979.10" font-size="15.25" textLength="40.10" lengthAdjust="spacing"><tspan font-family="'Liberation Serif', 'DejaVu Serif', serif">Δ</tspan>/DN</text>
<g transform="translate(1472.25 881.00) rotate(-90)">
<text x="0.00" y="0.00" font-size="18.8" textLength="138.70" lengthAdjust="spacing">Cell Count x10</text>
<text x="140.90" y="-10.60" font-size="13.7">6</text>
</g>
<text x="1601.15" y="906.75" font-size="15.25" textLength="21.60" lengthAdjust="spacing">NS</text>
<text x="1656.65" y="905.75" font-size="15.25" textLength="21.60" lengthAdjust="spacing">NS</text>
<path d="M1846.62 813.00V752.75M1837.62 752.75H1855.62" stroke="#111" stroke-width="1.6" fill="none"/>
<rect x="1828.85" y="813.60" width="35.55" height="127.20" fill="#fff" stroke="#1a1a1a" stroke-width="1.2"/>
<path d="M1901.62 917.25V908.50M1892.62 908.50H1910.62" stroke="#111" stroke-width="1.6" fill="none"/>
<rect x="1883.85" y="917.85" width="35.55" height="22.95" fill="#000" stroke="#1a1a1a" stroke-width="1.2"/>
<path d="M1956.62 907.50V890.25M1947.62 890.25H1965.62" stroke="#111" stroke-width="1.6" fill="none"/>
<rect x="1938.85" y="908.10" width="35.55" height="32.70" fill="#a2a2a6" stroke="#3a3a3a" stroke-width="1.2"/>
<path d="M1810.00 665.60V940.80M1799.25 940.80H1993.75M1799.25 666.30H1810.00M1799.25 757.80H1810.00M1799.25 849.30H1810.00" stroke="#363636" stroke-width="1.5" fill="none"/>
<path d="M1846.62 940.80V952.30M1901.62 940.80V952.30M1956.62 940.80V952.30" stroke="#363636" stroke-width="1.3" fill="none"/>
<text x="1795.70" y="672.65" font-size="15.25" text-anchor="end" letter-spacing="1.3">1.5</text>
<text x="1795.70" y="764.15" font-size="15.25" text-anchor="end" letter-spacing="1.3">1.0</text>
<text x="1795.70" y="855.65" font-size="15.25" text-anchor="end" letter-spacing="1.3">0.5</text>
<text x="1795.70" y="947.15" font-size="15.25" text-anchor="end" letter-spacing="1.3">0.0</text>
<text x="1806.95" y="647.90" font-size="19.1" textLength="121.45" lengthAdjust="spacing">Neutrophils</text>
<text x="1833.00" y="979.10" font-size="15.25" textLength="24.90" lengthAdjust="spacing"><tspan font-family="'Liberation Serif', 'DejaVu Serif', serif">Δ</tspan>/+</text>
<text x="1886.00" y="979.10" font-size="15.25" textLength="27.60" lengthAdjust="spacing"><tspan font-family="'Liberation Serif', 'DejaVu Serif', serif">Δ</tspan>/<tspan font-family="'Liberation Serif', 'DejaVu Serif', serif">Δ</tspan></text>
<text x="1941.50" y="979.10" font-size="15.25" textLength="40.10" lengthAdjust="spacing"><tspan font-family="'Liberation Serif', 'DejaVu Serif', serif">Δ</tspan>/DN</text>
<g transform="translate(1758.50 881.00) rotate(-90)">
<text x="0.00" y="0.00" font-size="18.8" textLength="138.70" lengthAdjust="spacing">Cell Count x10</text>
<text x="140.90" y="-10.60" font-size="13.7">6</text>
</g>
<text x="1891.15" y="893.75" font-size="15.25" textLength="21.60" lengthAdjust="spacing">NS</text>
<text x="1943.65" y="876.75" font-size="15.25" textLength="21.60" lengthAdjust="spacing">NS</text>
<rect x="469.90" y="43.60" width="38.2" height="20.3" fill="#fff" stroke="#000" stroke-width="1.3"/>
<path d="M469.90 63.90v1.8M508.10 63.90v1.8" stroke="#000" stroke-width="1.1" fill="none"/>
<text x="521.80" y="65.10" font-size="31.4" font-style="italic">Mysm1</text>
<text x="619.60" y="55.80" font-size="19.6" textLength="29.00" lengthAdjust="spacing">+/+</text>
<rect x="668.25" y="43.00" width="38" height="22.5" fill="#000"/>
<text x="712.80" y="62.00" font-size="31.4" font-style="italic">Mysm1</text>
<text x="809.60" y="53.00" font-size="19.6" font-style="italic" textLength="20.50" lengthAdjust="spacing">-/-</text>
<rect x="847.50" y="40.30" width="38.7" height="23.0" fill="#868686" stroke="#000" stroke-width="2.6"/>
<text x="903.50" y="62.00" font-size="31.4" font-style="italic">Mysm1</text>
<text x="1001.20" y="53.75" font-size="19.8" textLength="63.50" lengthAdjust="spacing">DN/DN</text>
<rect x="1411.40" y="33.60" width="38.2" height="20.3" fill="#fff" stroke="#000" stroke-width="1.3"/>
<path d="M1411.40 53.90v1.8M1449.60 53.90v1.8" stroke="#000" stroke-width="1.1" fill="none"/>
<text x="1463.30" y="55.10" font-size="31.4" font-style="italic">Mysm1</text>
<text x="1561.10" y="45.80" font-size="19.6" textLength="29.00" lengthAdjust="spacing">+/+</text>
<rect x="1609.75" y="33.00" width="38" height="22.5" fill="#000"/>
<text x="1654.30" y="52.00" font-size="31.4" font-style="italic">Mysm1</text>
<text x="1751.10" y="43.00" font-size="19.6" font-style="italic" textLength="20.50" lengthAdjust="spacing">-/-</text>
<rect x="1789.00" y="30.30" width="38.7" height="23.0" fill="#868686" stroke="#000" stroke-width="2.6"/>
<text x="1845.00" y="52.00" font-size="31.4" font-style="italic">Mysm1</text>
<text x="1942.70" y="43.75" font-size="19.8" textLength="63.50" lengthAdjust="spacing">DN/DN</text>
<rect x="452.65" y="532.60" width="38.2" height="20.5" fill="#fff" stroke="#000" stroke-width="1.3"/>
<path d="M452.65 553.10v1.8M490.85 553.10v1.8" stroke="#000" stroke-width="1.1" fill="none"/>
<text x="504.80" y="553.75" font-size="31.4" font-style="italic">Mysm1</text>
<text x="602.80" y="543.75" font-size="19.6" textLength="30.50" lengthAdjust="spacing">+/Δ</text>
<text x="518.40" y="589.50" font-size="31.4" textLength="48.00" lengthAdjust="spacing">Cre</text>
<text x="567.20" y="581.75" font-size="19.5" textLength="50.50" lengthAdjust="spacing">ERT2</text>
<rect x="651.50" y="532.50" width="38.5" height="22" fill="#000"/>
<text x="699.80" y="550.75" font-size="31.4" font-style="italic">Mysm1</text>
<text x="797.30" y="541.25" font-size="19.6" textLength="32.20" lengthAdjust="spacing">Δ/Δ</text>
<text x="714.60" y="586.25" font-size="31.4" textLength="48.00" lengthAdjust="spacing">Cre</text>
<text x="763.50" y="578.50" font-size="19.5" textLength="50.50" lengthAdjust="spacing">ERT2</text>
<rect x="848.80" y="530.05" width="38.65" height="21.65" fill="#868686" stroke="#000" stroke-width="2.6"/>
<text x="895.30" y="550.75" font-size="31.4" font-style="italic">Mysm1</text>
<text x="993.50" y="542.00" font-size="19.8" textLength="46.50" lengthAdjust="spacing">Δ/DN</text>
<text x="917.60" y="586.25" font-size="31.4" textLength="48.00" lengthAdjust="spacing">Cre</text>
<text x="966.50" y="578.00" font-size="19.5" textLength="50.50" lengthAdjust="spacing">ERT2</text>
<rect x="1411.25" y="533.40" width="38.2" height="20.5" fill="#fff" stroke="#000" stroke-width="1.3"/>
<path d="M1411.25 553.90v1.8M1449.45 553.90v1.8" stroke="#000" stroke-width="1.1" fill="none"/>
<text x="1463.40" y="554.55" font-size="31.4" font-style="italic">Mysm1</text>
<text x="1561.40" y="544.55" font-size="19.6" textLength="30.50" lengthAdjust="spacing">+/Δ</text>
<text x="1477.00" y="590.30" font-size="31.4" textLength="48.00" lengthAdjust="spacing">Cre</text>
<text x="1525.80" y="582.55" font-size="19.5" textLength="50.50" lengthAdjust="spacing">ERT2</text>
<rect x="1610.10" y="533.30" width="38.5" height="22" fill="#000"/>
<text x="1658.40" y="551.55" font-size="31.4" font-style="italic">Mysm1</text>
<text x="1755.90" y="542.05" font-size="19.6" textLength="32.20" lengthAdjust="spacing">Δ/Δ</text>
<text x="1673.20" y="587.05" font-size="31.4" textLength="48.00" lengthAdjust="spacing">Cre</text>
<text x="1722.10" y="579.30" font-size="19.5" textLength="50.50" lengthAdjust="spacing">ERT2</text>
<rect x="1807.40" y="530.85" width="38.65" height="21.65" fill="#868686" stroke="#000" stroke-width="2.6"/>
<text x="1853.90" y="551.55" font-size="31.4" font-style="italic">Mysm1</text>
<text x="1952.10" y="542.80" font-size="19.8" textLength="46.50" lengthAdjust="spacing">Δ/DN</text>
<text x="1876.20" y="587.05" font-size="31.4" textLength="48.00" lengthAdjust="spacing">Cre</text>
<text x="1925.10" y="578.80" font-size="19.5" textLength="50.50" lengthAdjust="spacing">ERT2</text>
<text transform="translate(12.00 43.25) scale(0.97 1)" font-size="56.8">A</text>
<text transform="translate(9.00 559.70) scale(0.97 1)" font-size="56.0">B</text>
<text transform="translate(10.80 1090.60) scale(0.97 1)" font-size="56.0">C</text>
<text transform="translate(978.30 1091.40) scale(0.97 1)" font-size="56.0">D</text>
<text transform="translate(1173.00 42.50) scale(0.97 1)" font-size="56.0">E</text>
<text transform="translate(1180.60 561.75) scale(0.97 1)" font-size="56.0">F</text>
<defs>
<filter id="bl3" x="-20%" y="-20%" width="140%" height="140%"><feGaussianBlur stdDeviation="3"/></filter>
<radialGradient id="g_red" cx="0" cy="0" r="1" gradientUnits="objectBoundingBox" gradientTransform="translate(0.5 0.5) scale(0.5)"><stop offset="0" stop-color="#f00000" stop-opacity="1"/><stop offset="0.13" stop-color="#ff0000" stop-opacity="1"/><stop offset="0.2" stop-color="#ff6000" stop-opacity="1"/><stop offset="0.27" stop-color="#ffff00" stop-opacity="1"/><stop offset="0.34" stop-color="#60ff00" stop-opacity="1"/><stop offset="0.42" stop-color="#00ff30" stop-opacity="1"/><stop offset="0.5" stop-color="#00ffd0" stop-opacity="1"/><stop offset="0.56" stop-color="#00e8ff" stop-opacity="1"/><stop offset="0.66" stop-color="#00a0ff" stop-opacity="1"/><stop offset="0.8" stop-color="#0068ff" stop-opacity="0.85"/><stop offset="1" stop-color="#0040ff" stop-opacity="0"/></radialGradient>
<radialGradient id="g_yel" cx="0" cy="0" r="1" gradientUnits="objectBoundingBox" gradientTransform="translate(0.5 0.5) scale(0.5)"><stop offset="0" stop-color="#c0ff00" stop-opacity="1"/><stop offset="0.15" stop-color="#80ff00" stop-opacity="1"/><stop offset="0.35" stop-color="#00ff20" stop-opacity="1"/><stop offset="0.55" stop-color="#00ffd0" stop-opacity="1"/><stop offset="0.72" stop-color="#00a0ff" stop-opacity="1"/><stop offset="0.88" stop-color="#0060ff" stop-opacity="0.7"/><stop offset="1" stop-color="#0040ff" stop-opacity="0"/></radialGradient>
<radialGradient id="g_green" cx="0" cy="0" r="1" gradientUnits="objectBoundingBox" gradientTransform="translate(0.5 0.5) scale(0.5)"><stop offset="0" stop-color="#18ff00" stop-opacity="1"/><stop offset="0.24" stop-color="#00ff20" stop-opacity="1"/><stop offset="0.4" stop-color="#00ffb0" stop-opacity="1"/><stop offset="0.52" stop-color="#00f0ff" stop-opacity="1"/><stop offset="0.68" stop-color="#00a0ff" stop-opacity="1"/><stop offset="0.86" stop-color="#0060ff" stop-opacity="0.7"/><stop offset="1" stop-color="#0040ff" stop-opacity="0"/></radialGradient>
<radialGradient id="g_cyan" cx="0" cy="0" r="1" gradientUnits="objectBoundingBox" gradientTransform="translate(0.5 0.5) scale(0.5)"><stop offset="0" stop-color="#00ffe0" stop-opacity="1"/><stop offset="0.2" stop-color="#00f0ff" stop-opacity="1"/><stop offset="0.45" stop-color="#00b0ff" stop-opacity="1"/><stop offset="0.7" stop-color="#0078ff" stop-opacity="0.9"/><stop offset="1" stop-color="#0040ff" stop-opacity="0"/></radialGradient>
<radialGradient id="g_lblue" cx="0" cy="0" r="1" gradientUnits="objectBoundingBox" gradientTransform="translate(0.5 0.5) scale(0.5)"><stop offset="0" stop-color="#00a4ff" stop-opacity="1"/><stop offset="0.35" stop-color="#0080ff" stop-opacity="0.95"/><stop offset="0.7" stop-color="#0050ff" stop-opacity="0.65"/><stop offset="1" stop-color="#0030ff" stop-opacity="0"/></radialGradient>
<radialGradient id="g_redcore" cx="0" cy="0" r="1" gradientUnits="objectBoundingBox" gradientTransform="translate(0.5 0.5) scale(0.5)"><stop offset="0" stop-color="#f00000" stop-opacity="1"/><stop offset="0.28" stop-color="#ff0000" stop-opacity="1"/><stop offset="0.48" stop-color="#ff8000" stop-opacity="1"/><stop offset="0.66" stop-color="#ffff00" stop-opacity="1"/><stop offset="0.85" stop-color="#80ff00" stop-opacity="0.9"/><stop offset="1" stop-color="#30ff00" stop-opacity="0"/></radialGradient>
<radialGradient id="g_ygcore" cx="0" cy="0" r="1" gradientUnits="objectBoundingBox" gradientTransform="translate(0.5 0.5) scale(0.5)"><stop offset="0" stop-color="#b8ff00" stop-opacity="1"/><stop offset="0.45" stop-color="#70ff00" stop-opacity="1"/><stop offset="0.8" stop-color="#20ff00" stop-opacity="0.7"/><stop offset="1" stop-color="#00ff20" stop-opacity="0"/></radialGradient>
<radialGradient id="g_gplate" cx="0" cy="0" r="1" gradientUnits="objectBoundingBox" gradientTransform="translate(0.5 0.5) scale(0.5)"><stop offset="0" stop-color="#10ff10" stop-opacity="1"/><stop offset="0.45" stop-color="#00ff28" stop-opacity="1"/><stop offset="0.6" stop-color="#00ffb0" stop-opacity="1"/><stop offset="0.7" stop-color="#00f4ff" stop-opacity="1"/><stop offset="0.82" stop-color="#00a0ff" stop-opacity="1"/><stop offset="0.92" stop-color="#0068ff" stop-opacity="0.7"/><stop offset="1" stop-color="#0048ff" stop-opacity="0"/></radialGradient>
<radialGradient id="g_mblue" cx="0" cy="0" r="1" gradientUnits="objectBoundingBox" gradientTransform="translate(0.5 0.5) scale(0.5)"><stop offset="0" stop-color="#0058ff" stop-opacity="1"/><stop offset="0.6" stop-color="#0044ff" stop-opacity="0.8"/><stop offset="1" stop-color="#0030ff" stop-opacity="0"/></radialGradient>
</defs>
<text x="13.60" y="1150.00" font-size="30.9" textLength="157.00" lengthAdjust="spacing"><tspan font-style="italic">Mysm1</tspan>: +/+</text>
<text x="411.00" y="1150.00" font-size="30.9" textLength="27.50" lengthAdjust="spacing">-/-</text>
<text x="668.20" y="1150.00" font-size="30.9" textLength="98.60" lengthAdjust="spacing">DN/DN</text>
<clipPath id="b1"><path d="M317.5 1204.5C319.5 1205.1 323.7 1207.0 324.5 1209.0C325.3 1211.0 324.5 1212.8 322.5 1216.5C320.5 1220.2 316.2 1225.7 312.5 1231.5C308.8 1237.3 304.2 1244.4 300.0 1251.5C295.8 1258.6 291.7 1266.9 287.5 1274.0C283.3 1281.1 278.8 1288.2 275.0 1294.0C271.2 1299.8 269.2 1304.6 265.0 1309.0C260.8 1313.4 255.8 1317.8 250.0 1320.2C244.2 1322.8 235.4 1322.1 230.0 1324.0C224.6 1325.9 220.4 1328.6 217.5 1331.5C214.6 1334.4 213.4 1336.5 212.5 1341.5C211.6 1346.5 211.2 1356.1 212.0 1361.5C212.8 1366.9 216.7 1370.7 217.0 1374.0C217.3 1377.3 216.2 1378.2 213.8 1381.5C211.3 1384.8 206.5 1389.4 202.5 1394.0C198.5 1398.6 193.8 1405.2 190.0 1409.0C186.2 1412.8 183.3 1414.8 180.0 1416.5C176.7 1418.2 172.9 1417.4 170.0 1419.0C167.1 1420.6 164.8 1425.2 162.5 1426.0C160.2 1426.8 158.3 1426.0 156.2 1424.0C154.2 1422.0 151.5 1419.0 150.0 1414.0C148.5 1409.0 147.5 1399.8 147.0 1394.0C146.5 1388.2 146.2 1385.2 146.8 1379.0C147.2 1372.8 148.4 1364.8 150.0 1356.5C151.6 1348.2 154.2 1336.1 156.2 1329.0C158.3 1321.9 159.8 1319.0 162.5 1314.0C165.2 1309.0 168.8 1302.8 172.5 1299.0C176.2 1295.2 180.8 1293.1 185.0 1291.0C189.2 1288.9 193.8 1288.5 197.5 1286.5C201.2 1284.5 203.8 1281.9 207.5 1279.0C211.2 1276.1 218.8 1272.8 220.0 1269.0C221.2 1265.2 217.3 1259.8 215.0 1256.5C212.7 1253.2 207.1 1251.3 206.2 1249.0C205.4 1246.7 206.0 1244.8 210.0 1242.8C214.0 1240.7 223.3 1238.2 230.0 1236.5C236.7 1234.8 243.3 1234.6 250.0 1232.8C256.7 1230.9 263.8 1227.5 270.0 1225.2C276.2 1223.0 282.1 1221.5 287.5 1219.0C292.9 1216.5 298.3 1212.5 302.5 1210.2C306.7 1208.0 310.0 1206.2 312.5 1205.2C315.0 1204.3 315.5 1203.9 317.5 1204.5Z"/></clipPath>
<path d="M317.5 1204.5C319.5 1205.1 323.7 1207.0 324.5 1209.0C325.3 1211.0 324.5 1212.8 322.5 1216.5C320.5 1220.2 316.2 1225.7 312.5 1231.5C308.8 1237.3 304.2 1244.4 300.0 1251.5C295.8 1258.6 291.7 1266.9 287.5 1274.0C283.3 1281.1 278.8 1288.2 275.0 1294.0C271.2 1299.8 269.2 1304.6 265.0 1309.0C260.8 1313.4 255.8 1317.8 250.0 1320.2C244.2 1322.8 235.4 1322.1 230.0 1324.0C224.6 1325.9 220.4 1328.6 217.5 1331.5C214.6 1334.4 213.4 1336.5 212.5 1341.5C211.6 1346.5 211.2 1356.1 212.0 1361.5C212.8 1366.9 216.7 1370.7 217.0 1374.0C217.3 1377.3 216.2 1378.2 213.8 1381.5C211.3 1384.8 206.5 1389.4 202.5 1394.0C198.5 1398.6 193.8 1405.2 190.0 1409.0C186.2 1412.8 183.3 1414.8 180.0 1416.5C176.7 1418.2 172.9 1417.4 170.0 1419.0C167.1 1420.6 164.8 1425.2 162.5 1426.0C160.2 1426.8 158.3 1426.0 156.2 1424.0C154.2 1422.0 151.5 1419.0 150.0 1414.0C148.5 1409.0 147.5 1399.8 147.0 1394.0C146.5 1388.2 146.2 1385.2 146.8 1379.0C147.2 1372.8 148.4 1364.8 150.0 1356.5C151.6 1348.2 154.2 1336.1 156.2 1329.0C158.3 1321.9 159.8 1319.0 162.5 1314.0C165.2 1309.0 168.8 1302.8 172.5 1299.0C176.2 1295.2 180.8 1293.1 185.0 1291.0C189.2 1288.9 193.8 1288.5 197.5 1286.5C201.2 1284.5 203.8 1281.9 207.5 1279.0C211.2 1276.1 218.8 1272.8 220.0 1269.0C221.2 1265.2 217.3 1259.8 215.0 1256.5C212.7 1253.2 207.1 1251.3 206.2 1249.0C205.4 1246.7 206.0 1244.8 210.0 1242.8C214.0 1240.7 223.3 1238.2 230.0 1236.5C236.7 1234.8 243.3 1234.6 250.0 1232.8C256.7 1230.9 263.8 1227.5 270.0 1225.2C276.2 1223.0 282.1 1221.5 287.5 1219.0C292.9 1216.5 298.3 1212.5 302.5 1210.2C306.7 1208.0 310.0 1206.2 312.5 1205.2C315.0 1204.3 315.5 1203.9 317.5 1204.5Z" fill="#0010ff" stroke="#3a44ff" stroke-width="0.8" stroke-opacity="0.55"/>
<g clip-path="url(#b1)">
<path d="M317.5 1204.5C319.5 1205.1 323.7 1207.0 324.5 1209.0C325.3 1211.0 324.5 1212.8 322.5 1216.5C320.5 1220.2 316.2 1225.7 312.5 1231.5C308.8 1237.3 304.2 1244.4 300.0 1251.5C295.8 1258.6 291.7 1266.9 287.5 1274.0C283.3 1281.1 278.8 1288.2 275.0 1294.0C271.2 1299.8 269.2 1304.6 265.0 1309.0C260.8 1313.4 255.8 1317.8 250.0 1320.2C244.2 1322.8 235.4 1322.1 230.0 1324.0C224.6 1325.9 220.4 1328.6 217.5 1331.5C214.6 1334.4 213.4 1336.5 212.5 1341.5C211.6 1346.5 211.2 1356.1 212.0 1361.5C212.8 1366.9 216.7 1370.7 217.0 1374.0C217.3 1377.3 216.2 1378.2 213.8 1381.5C211.3 1384.8 206.5 1389.4 202.5 1394.0C198.5 1398.6 193.8 1405.2 190.0 1409.0C186.2 1412.8 183.3 1414.8 180.0 1416.5C176.7 1418.2 172.9 1417.4 170.0 1419.0C167.1 1420.6 164.8 1425.2 162.5 1426.0C160.2 1426.8 158.3 1426.0 156.2 1424.0C154.2 1422.0 151.5 1419.0 150.0 1414.0C148.5 1409.0 147.5 1399.8 147.0 1394.0C146.5 1388.2 146.2 1385.2 146.8 1379.0C147.2 1372.8 148.4 1364.8 150.0 1356.5C151.6 1348.2 154.2 1336.1 156.2 1329.0C158.3 1321.9 159.8 1319.0 162.5 1314.0C165.2 1309.0 168.8 1302.8 172.5 1299.0C176.2 1295.2 180.8 1293.1 185.0 1291.0C189.2 1288.9 193.8 1288.5 197.5 1286.5C201.2 1284.5 203.8 1281.9 207.5 1279.0C211.2 1276.1 218.8 1272.8 220.0 1269.0C221.2 1265.2 217.3 1259.8 215.0 1256.5C212.7 1253.2 207.1 1251.3 206.2 1249.0C205.4 1246.7 206.0 1244.8 210.0 1242.8C214.0 1240.7 223.3 1238.2 230.0 1236.5C236.7 1234.8 243.3 1234.6 250.0 1232.8C256.7 1230.9 263.8 1227.5 270.0 1225.2C276.2 1223.0 282.1 1221.5 287.5 1219.0C292.9 1216.5 298.3 1212.5 302.5 1210.2C306.7 1208.0 310.0 1206.2 312.5 1205.2C315.0 1204.3 315.5 1203.9 317.5 1204.5Z" fill="#0034ff"/>
<path d="M317.5 1204.5C319.5 1205.1 323.7 1207.0 324.5 1209.0C325.3 1211.0 324.5 1212.8 322.5 1216.5C320.5 1220.2 316.2 1225.7 312.5 1231.5C308.8 1237.3 304.2 1244.4 300.0 1251.5C295.8 1258.6 291.7 1266.9 287.5 1274.0C283.3 1281.1 278.8 1288.2 275.0 1294.0C271.2 1299.8 269.2 1304.6 265.0 1309.0C260.8 1313.4 255.8 1317.8 250.0 1320.2C244.2 1322.8 235.4 1322.1 230.0 1324.0C224.6 1325.9 220.4 1328.6 217.5 1331.5C214.6 1334.4 213.4 1336.5 212.5 1341.5C211.6 1346.5 211.2 1356.1 212.0 1361.5C212.8 1366.9 216.7 1370.7 217.0 1374.0C217.3 1377.3 216.2 1378.2 213.8 1381.5C211.3 1384.8 206.5 1389.4 202.5 1394.0C198.5 1398.6 193.8 1405.2 190.0 1409.0C186.2 1412.8 183.3 1414.8 180.0 1416.5C176.7 1418.2 172.9 1417.4 170.0 1419.0C167.1 1420.6 164.8 1425.2 162.5 1426.0C160.2 1426.8 158.3 1426.0 156.2 1424.0C154.2 1422.0 151.5 1419.0 150.0 1414.0C148.5 1409.0 147.5 1399.8 147.0 1394.0C146.5 1388.2 146.2 1385.2 146.8 1379.0C147.2 1372.8 148.4 1364.8 150.0 1356.5C151.6 1348.2 154.2 1336.1 156.2 1329.0C158.3 1321.9 159.8 1319.0 162.5 1314.0C165.2 1309.0 168.8 1302.8 172.5 1299.0C176.2 1295.2 180.8 1293.1 185.0 1291.0C189.2 1288.9 193.8 1288.5 197.5 1286.5C201.2 1284.5 203.8 1281.9 207.5 1279.0C211.2 1276.1 218.8 1272.8 220.0 1269.0C221.2 1265.2 217.3 1259.8 215.0 1256.5C212.7 1253.2 207.1 1251.3 206.2 1249.0C205.4 1246.7 206.0 1244.8 210.0 1242.8C214.0 1240.7 223.3 1238.2 230.0 1236.5C236.7 1234.8 243.3 1234.6 250.0 1232.8C256.7 1230.9 263.8 1227.5 270.0 1225.2C276.2 1223.0 282.1 1221.5 287.5 1219.0C292.9 1216.5 298.3 1212.5 302.5 1210.2C306.7 1208.0 310.0 1206.2 312.5 1205.2C315.0 1204.3 315.5 1203.9 317.5 1204.5Z" fill="none" stroke="#0008ff" stroke-width="9" filter="url(#bl3)"/>
<ellipse cx="0" cy="0" rx="60" ry="22" fill="url(#g_mblue)" transform="translate(230.00 1300.00) rotate(-40)"/>
<ellipse cx="0" cy="0" rx="22" ry="45" fill="url(#g_lblue)" transform="translate(172.00 1360.00) rotate(10)"/>
<ellipse cx="0" cy="0" rx="44" ry="13" fill="url(#g_lblue)" transform="translate(282.00 1246.00) rotate(-47)"/>
<ellipse cx="0" cy="0" rx="60" ry="25" fill="url(#g_red)" transform="translate(268.20 1260.40) rotate(-47)"/>
<ellipse cx="0" cy="0" rx="22.5" ry="36" fill="url(#g_gplate)" transform="translate(168.80 1384.00) rotate(0)"/>
<ellipse cx="0" cy="0" rx="7.5" ry="15" fill="url(#g_ygcore)" transform="translate(177.00 1381.40) rotate(0)"/>
<ellipse cx="0" cy="0" rx="7.2" ry="23" fill="url(#g_redcore)" transform="translate(160.80 1381.40) rotate(0)"/>
</g>
<clipPath id="b2"><path d="M466.2 1274.0C467.9 1274.4 470.4 1275.7 471.2 1277.8C472.1 1279.8 471.7 1283.0 471.2 1286.5C470.8 1290.0 469.6 1295.2 468.8 1299.0C467.9 1302.8 466.9 1304.8 466.2 1309.0C465.6 1313.2 464.4 1319.8 465.0 1324.0C465.6 1328.2 467.5 1330.7 470.0 1334.0C472.5 1337.3 478.0 1341.1 480.0 1344.0C482.0 1346.9 482.4 1348.2 482.0 1351.5C481.6 1354.8 479.9 1358.6 477.5 1364.0C475.1 1369.4 470.8 1377.8 467.5 1384.0C464.2 1390.2 460.6 1396.1 457.5 1401.5C454.4 1406.9 451.0 1412.8 448.8 1416.5C446.5 1420.2 445.4 1422.7 443.8 1423.5C442.1 1424.3 440.4 1423.9 438.8 1421.5C437.1 1419.1 435.4 1413.6 433.8 1409.0C432.1 1404.4 429.8 1399.0 428.8 1394.0C427.7 1389.0 427.1 1384.4 427.5 1379.0C427.9 1373.6 429.6 1367.3 431.2 1361.5C432.9 1355.7 435.4 1350.7 437.5 1344.0C439.6 1337.3 442.1 1328.2 443.8 1321.5C445.4 1314.8 446.5 1309.0 447.5 1304.0C448.5 1299.0 448.8 1295.2 450.0 1291.5C451.2 1287.8 453.1 1284.2 455.0 1281.5C456.9 1278.8 459.4 1276.5 461.2 1275.2C463.1 1274.0 464.6 1273.6 466.2 1274.0Z"/></clipPath>
<path d="M466.2 1274.0C467.9 1274.4 470.4 1275.7 471.2 1277.8C472.1 1279.8 471.7 1283.0 471.2 1286.5C470.8 1290.0 469.6 1295.2 468.8 1299.0C467.9 1302.8 466.9 1304.8 466.2 1309.0C465.6 1313.2 464.4 1319.8 465.0 1324.0C465.6 1328.2 467.5 1330.7 470.0 1334.0C472.5 1337.3 478.0 1341.1 480.0 1344.0C482.0 1346.9 482.4 1348.2 482.0 1351.5C481.6 1354.8 479.9 1358.6 477.5 1364.0C475.1 1369.4 470.8 1377.8 467.5 1384.0C464.2 1390.2 460.6 1396.1 457.5 1401.5C454.4 1406.9 451.0 1412.8 448.8 1416.5C446.5 1420.2 445.4 1422.7 443.8 1423.5C442.1 1424.3 440.4 1423.9 438.8 1421.5C437.1 1419.1 435.4 1413.6 433.8 1409.0C432.1 1404.4 429.8 1399.0 428.8 1394.0C427.7 1389.0 427.1 1384.4 427.5 1379.0C427.9 1373.6 429.6 1367.3 431.2 1361.5C432.9 1355.7 435.4 1350.7 437.5 1344.0C439.6 1337.3 442.1 1328.2 443.8 1321.5C445.4 1314.8 446.5 1309.0 447.5 1304.0C448.5 1299.0 448.8 1295.2 450.0 1291.5C451.2 1287.8 453.1 1284.2 455.0 1281.5C456.9 1278.8 459.4 1276.5 461.2 1275.2C463.1 1274.0 464.6 1273.6 466.2 1274.0Z" fill="#0010ff" stroke="#3a44ff" stroke-width="0.8" stroke-opacity="0.55"/>
<g clip-path="url(#b2)">
<path d="M466.2 1274.0C467.9 1274.4 470.4 1275.7 471.2 1277.8C472.1 1279.8 471.7 1283.0 471.2 1286.5C470.8 1290.0 469.6 1295.2 468.8 1299.0C467.9 1302.8 466.9 1304.8 466.2 1309.0C465.6 1313.2 464.4 1319.8 465.0 1324.0C465.6 1328.2 467.5 1330.7 470.0 1334.0C472.5 1337.3 478.0 1341.1 480.0 1344.0C482.0 1346.9 482.4 1348.2 482.0 1351.5C481.6 1354.8 479.9 1358.6 477.5 1364.0C475.1 1369.4 470.8 1377.8 467.5 1384.0C464.2 1390.2 460.6 1396.1 457.5 1401.5C454.4 1406.9 451.0 1412.8 448.8 1416.5C446.5 1420.2 445.4 1422.7 443.8 1423.5C442.1 1424.3 440.4 1423.9 438.8 1421.5C437.1 1419.1 435.4 1413.6 433.8 1409.0C432.1 1404.4 429.8 1399.0 428.8 1394.0C427.7 1389.0 427.1 1384.4 427.5 1379.0C427.9 1373.6 429.6 1367.3 431.2 1361.5C432.9 1355.7 435.4 1350.7 437.5 1344.0C439.6 1337.3 442.1 1328.2 443.8 1321.5C445.4 1314.8 446.5 1309.0 447.5 1304.0C448.5 1299.0 448.8 1295.2 450.0 1291.5C451.2 1287.8 453.1 1284.2 455.0 1281.5C456.9 1278.8 459.4 1276.5 461.2 1275.2C463.1 1274.0 464.6 1273.6 466.2 1274.0Z" fill="#0034ff"/>
<path d="M466.2 1274.0C467.9 1274.4 470.4 1275.7 471.2 1277.8C472.1 1279.8 471.7 1283.0 471.2 1286.5C470.8 1290.0 469.6 1295.2 468.8 1299.0C467.9 1302.8 466.9 1304.8 466.2 1309.0C465.6 1313.2 464.4 1319.8 465.0 1324.0C465.6 1328.2 467.5 1330.7 470.0 1334.0C472.5 1337.3 478.0 1341.1 480.0 1344.0C482.0 1346.9 482.4 1348.2 482.0 1351.5C481.6 1354.8 479.9 1358.6 477.5 1364.0C475.1 1369.4 470.8 1377.8 467.5 1384.0C464.2 1390.2 460.6 1396.1 457.5 1401.5C454.4 1406.9 451.0 1412.8 448.8 1416.5C446.5 1420.2 445.4 1422.7 443.8 1423.5C442.1 1424.3 440.4 1423.9 438.8 1421.5C437.1 1419.1 435.4 1413.6 433.8 1409.0C432.1 1404.4 429.8 1399.0 428.8 1394.0C427.7 1389.0 427.1 1384.4 427.5 1379.0C427.9 1373.6 429.6 1367.3 431.2 1361.5C432.9 1355.7 435.4 1350.7 437.5 1344.0C439.6 1337.3 442.1 1328.2 443.8 1321.5C445.4 1314.8 446.5 1309.0 447.5 1304.0C448.5 1299.0 448.8 1295.2 450.0 1291.5C451.2 1287.8 453.1 1284.2 455.0 1281.5C456.9 1278.8 459.4 1276.5 461.2 1275.2C463.1 1274.0 464.6 1273.6 466.2 1274.0Z" fill="none" stroke="#0008ff" stroke-width="9" filter="url(#bl3)"/>
<ellipse cx="0" cy="0" rx="17" ry="40" fill="url(#g_lblue)" transform="translate(449.00 1362.00) rotate(14)"/>
<ellipse cx="0" cy="0" rx="14.5" ry="31" fill="url(#g_red)" transform="translate(443.30 1382.20) rotate(2)"/>
</g>
<clipPath id="b3"><path d="M517.5 1243.5C518.1 1241.7 521.2 1238.5 525.0 1237.0C528.8 1235.5 534.2 1234.6 540.0 1234.8C545.8 1234.9 554.8 1236.4 560.0 1237.8C565.2 1239.1 568.8 1240.5 571.2 1242.8C573.7 1245.0 574.5 1248.4 574.5 1251.5C574.5 1254.6 573.0 1258.2 571.2 1261.5C569.5 1264.8 566.9 1268.8 563.8 1271.5C560.6 1274.2 555.6 1277.1 552.5 1277.8C549.4 1278.4 546.9 1277.1 545.0 1275.2C543.1 1273.4 542.1 1269.6 541.2 1266.5C540.4 1263.4 541.9 1258.8 540.0 1256.5C538.1 1254.2 533.1 1254.2 530.0 1252.8C526.9 1251.3 523.3 1249.3 521.2 1247.8C519.2 1246.2 516.9 1245.3 517.5 1243.5Z"/></clipPath>
<path d="M517.5 1243.5C518.1 1241.7 521.2 1238.5 525.0 1237.0C528.8 1235.5 534.2 1234.6 540.0 1234.8C545.8 1234.9 554.8 1236.4 560.0 1237.8C565.2 1239.1 568.8 1240.5 571.2 1242.8C573.7 1245.0 574.5 1248.4 574.5 1251.5C574.5 1254.6 573.0 1258.2 571.2 1261.5C569.5 1264.8 566.9 1268.8 563.8 1271.5C560.6 1274.2 555.6 1277.1 552.5 1277.8C549.4 1278.4 546.9 1277.1 545.0 1275.2C543.1 1273.4 542.1 1269.6 541.2 1266.5C540.4 1263.4 541.9 1258.8 540.0 1256.5C538.1 1254.2 533.1 1254.2 530.0 1252.8C526.9 1251.3 523.3 1249.3 521.2 1247.8C519.2 1246.2 516.9 1245.3 517.5 1243.5Z" fill="#0010ff" stroke="#3a44ff" stroke-width="0.8" stroke-opacity="0.55"/>
<g clip-path="url(#b3)">
<ellipse cx="0" cy="0" rx="14" ry="16" fill="url(#g_mblue)" transform="translate(560.00 1257.00) rotate(0)"/>
</g>
<clipPath id="b4"><path d="M740.0 1307.2C741.7 1307.2 744.0 1307.0 745.0 1309.0C746.0 1311.0 745.0 1315.7 746.2 1319.0C747.5 1322.3 750.4 1325.2 752.5 1329.0C754.6 1332.8 757.3 1337.3 758.8 1341.5C760.2 1345.7 759.4 1351.4 761.2 1354.0C763.1 1356.6 766.9 1355.8 770.0 1357.2C773.1 1358.7 777.2 1360.0 780.0 1362.8C782.8 1365.5 786.0 1369.6 787.0 1374.0C788.0 1378.4 787.4 1384.6 786.2 1389.0C785.1 1393.4 782.9 1397.3 780.0 1400.2C777.1 1403.2 772.5 1405.9 768.8 1406.5C765.0 1407.1 761.0 1405.2 757.5 1404.0C754.0 1402.8 750.4 1398.6 747.5 1399.0C744.6 1399.4 742.5 1403.4 740.0 1406.5C737.5 1409.6 734.8 1415.5 732.5 1417.8C730.2 1420.0 728.3 1420.9 726.2 1420.2C724.2 1419.6 722.1 1417.5 720.0 1414.0C717.9 1410.5 715.3 1404.0 713.8 1399.0C712.2 1394.0 710.9 1389.0 710.5 1384.0C710.1 1379.0 710.3 1374.4 711.2 1369.0C712.2 1363.6 714.4 1357.8 716.2 1351.5C718.1 1345.2 720.4 1337.3 722.5 1331.5C724.6 1325.7 726.7 1320.2 728.8 1316.5C730.8 1312.8 733.1 1310.5 735.0 1309.0C736.9 1307.5 738.3 1307.2 740.0 1307.2Z"/></clipPath>
<path d="M740.0 1307.2C741.7 1307.2 744.0 1307.0 745.0 1309.0C746.0 1311.0 745.0 1315.7 746.2 1319.0C747.5 1322.3 750.4 1325.2 752.5 1329.0C754.6 1332.8 757.3 1337.3 758.8 1341.5C760.2 1345.7 759.4 1351.4 761.2 1354.0C763.1 1356.6 766.9 1355.8 770.0 1357.2C773.1 1358.7 777.2 1360.0 780.0 1362.8C782.8 1365.5 786.0 1369.6 787.0 1374.0C788.0 1378.4 787.4 1384.6 786.2 1389.0C785.1 1393.4 782.9 1397.3 780.0 1400.2C777.1 1403.2 772.5 1405.9 768.8 1406.5C765.0 1407.1 761.0 1405.2 757.5 1404.0C754.0 1402.8 750.4 1398.6 747.5 1399.0C744.6 1399.4 742.5 1403.4 740.0 1406.5C737.5 1409.6 734.8 1415.5 732.5 1417.8C730.2 1420.0 728.3 1420.9 726.2 1420.2C724.2 1419.6 722.1 1417.5 720.0 1414.0C717.9 1410.5 715.3 1404.0 713.8 1399.0C712.2 1394.0 710.9 1389.0 710.5 1384.0C710.1 1379.0 710.3 1374.4 711.2 1369.0C712.2 1363.6 714.4 1357.8 716.2 1351.5C718.1 1345.2 720.4 1337.3 722.5 1331.5C724.6 1325.7 726.7 1320.2 728.8 1316.5C730.8 1312.8 733.1 1310.5 735.0 1309.0C736.9 1307.5 738.3 1307.2 740.0 1307.2Z" fill="#0010ff" stroke="#3a44ff" stroke-width="0.8" stroke-opacity="0.55"/>
<g clip-path="url(#b4)">
<path d="M740.0 1307.2C741.7 1307.2 744.0 1307.0 745.0 1309.0C746.0 1311.0 745.0 1315.7 746.2 1319.0C747.5 1322.3 750.4 1325.2 752.5 1329.0C754.6 1332.8 757.3 1337.3 758.8 1341.5C760.2 1345.7 759.4 1351.4 761.2 1354.0C763.1 1356.6 766.9 1355.8 770.0 1357.2C773.1 1358.7 777.2 1360.0 780.0 1362.8C782.8 1365.5 786.0 1369.6 787.0 1374.0C788.0 1378.4 787.4 1384.6 786.2 1389.0C785.1 1393.4 782.9 1397.3 780.0 1400.2C777.1 1403.2 772.5 1405.9 768.8 1406.5C765.0 1407.1 761.0 1405.2 757.5 1404.0C754.0 1402.8 750.4 1398.6 747.5 1399.0C744.6 1399.4 742.5 1403.4 740.0 1406.5C737.5 1409.6 734.8 1415.5 732.5 1417.8C730.2 1420.0 728.3 1420.9 726.2 1420.2C724.2 1419.6 722.1 1417.5 720.0 1414.0C717.9 1410.5 715.3 1404.0 713.8 1399.0C712.2 1394.0 710.9 1389.0 710.5 1384.0C710.1 1379.0 710.3 1374.4 711.2 1369.0C712.2 1363.6 714.4 1357.8 716.2 1351.5C718.1 1345.2 720.4 1337.3 722.5 1331.5C724.6 1325.7 726.7 1320.2 728.8 1316.5C730.8 1312.8 733.1 1310.5 735.0 1309.0C736.9 1307.5 738.3 1307.2 740.0 1307.2Z" fill="#0034ff"/>
<path d="M740.0 1307.2C741.7 1307.2 744.0 1307.0 745.0 1309.0C746.0 1311.0 745.0 1315.7 746.2 1319.0C747.5 1322.3 750.4 1325.2 752.5 1329.0C754.6 1332.8 757.3 1337.3 758.8 1341.5C760.2 1345.7 759.4 1351.4 761.2 1354.0C763.1 1356.6 766.9 1355.8 770.0 1357.2C773.1 1358.7 777.2 1360.0 780.0 1362.8C782.8 1365.5 786.0 1369.6 787.0 1374.0C788.0 1378.4 787.4 1384.6 786.2 1389.0C785.1 1393.4 782.9 1397.3 780.0 1400.2C777.1 1403.2 772.5 1405.9 768.8 1406.5C765.0 1407.1 761.0 1405.2 757.5 1404.0C754.0 1402.8 750.4 1398.6 747.5 1399.0C744.6 1399.4 742.5 1403.4 740.0 1406.5C737.5 1409.6 734.8 1415.5 732.5 1417.8C730.2 1420.0 728.3 1420.9 726.2 1420.2C724.2 1419.6 722.1 1417.5 720.0 1414.0C717.9 1410.5 715.3 1404.0 713.8 1399.0C712.2 1394.0 710.9 1389.0 710.5 1384.0C710.1 1379.0 710.3 1374.4 711.2 1369.0C712.2 1363.6 714.4 1357.8 716.2 1351.5C718.1 1345.2 720.4 1337.3 722.5 1331.5C724.6 1325.7 726.7 1320.2 728.8 1316.5C730.8 1312.8 733.1 1310.5 735.0 1309.0C736.9 1307.5 738.3 1307.2 740.0 1307.2Z" fill="none" stroke="#0008ff" stroke-width="9" filter="url(#bl3)"/>
<ellipse cx="0" cy="0" rx="18" ry="42" fill="url(#g_lblue)" transform="translate(733.00 1360.00) rotate(8)"/>
<ellipse cx="0" cy="0" rx="17" ry="17" fill="url(#g_lblue)" transform="translate(766.00 1383.00) rotate(0)"/>
<ellipse cx="0" cy="0" rx="15" ry="32" fill="url(#g_red)" transform="translate(726.30 1381.60) rotate(0)"/>
</g>
<rect x="97" y="1162.6" width="847.5" height="4.4" fill="#c9c9c9"/>
<path d="M97 1163V1446M661.25 1163V1446M378.75 1305V1446" stroke="#3c3c3c" stroke-width="1.3" fill="none"/>
<path d="M378.9 1163V1305.5" stroke="#2c2c2c" stroke-width="2.3" fill="none"/>
<path d="M96.4 1445.75H944.5" stroke="#3c3c3c" stroke-width="1.5" fill="none"/>
<path d="M97 1168.3H378M97 1305.25H378.5M380 1305.25V1168.3H660.6V1305.25ZM662.6 1168.3H943.4V1305.25H662.6Z" stroke="#000" stroke-width="1.1" fill="none"/>
<text x="106.60" y="1198.90" font-size="27.0" textLength="81.50" lengthAdjust="spacing">48±4%</text>
<text x="397.00" y="1198.90" font-size="27.0" textLength="67.00" lengthAdjust="spacing">4±2%</text>
<text x="679.60" y="1198.90" font-size="27.0" textLength="67.00" lengthAdjust="spacing">4±8%</text>
<path d="M113.20 1446.25v7.2M160.60 1446.25v7.2M207.00 1446.25v7.2M284.20 1446.25v7.2M351.30 1446.25v7.2" stroke="#111" stroke-width="1.7" fill="none"/>
<path d="M230.24 1446.25v3.8M304.40 1446.25v3.8M243.83 1446.25v3.8M316.21 1446.25v3.8M253.48 1446.25v3.8M324.60 1446.25v3.8M260.96 1446.25v3.8M331.10 1446.25v3.8M267.07 1446.25v3.8M336.41 1446.25v3.8M272.24 1446.25v3.8M340.91 1446.25v3.8M276.72 1446.25v3.8M344.80 1446.25v3.8M280.67 1446.25v3.8M348.23 1446.25v3.8M371.50 1446.25v3.8M173.09 1446.25v3.8M147.84 1446.25v3.8M181.75 1446.25v3.8M139.00 1446.25v3.8M187.73 1446.25v3.8M132.88 1446.25v3.8M192.21 1446.25v3.8M128.31 1446.25v3.8M195.76 1446.25v3.8M124.69 1446.25v3.8M198.69 1446.25v3.8M121.69 1446.25v3.8M201.19 1446.25v3.8M119.14 1446.25v3.8M203.36 1446.25v3.8M116.92 1446.25v3.8M205.28 1446.25v3.8M114.96 1446.25v3.8" stroke="#111" stroke-width="0.9" fill="none" opacity="0.8"/>
<rect x="154.20" y="1446.25" width="11.6" height="6.4" fill="#111"/>
<text x="111.00" y="1470.95" font-size="8.8" fill="#3a3a3a" stroke="#3a3a3a" stroke-width="0.25">-10<tspan dy="-4.2" font-size="7">3</tspan></text>
<text x="163.00" y="1470.95" font-size="8.8" fill="#3a3a3a" stroke="#3a3a3a" stroke-width="0.25">0</text>
<text x="205.80" y="1470.95" font-size="8.8" fill="#3a3a3a" stroke="#3a3a3a" stroke-width="0.25">10<tspan dy="-4.2" font-size="7">3</tspan></text>
<text x="283.20" y="1470.95" font-size="8.8" fill="#3a3a3a" stroke="#3a3a3a" stroke-width="0.25">10<tspan dy="-4.2" font-size="7">4</tspan></text>
<text x="350.80" y="1470.95" font-size="8.8" fill="#3a3a3a" stroke="#3a3a3a" stroke-width="0.25">10<tspan dy="-4.2" font-size="7">5</tspan></text>
<path d="M394.95 1446.25v7.2M442.35 1446.25v7.2M488.75 1446.25v7.2M565.95 1446.25v7.2M633.05 1446.25v7.2" stroke="#111" stroke-width="1.7" fill="none"/>
<path d="M511.99 1446.25v3.8M586.15 1446.25v3.8M525.58 1446.25v3.8M597.96 1446.25v3.8M535.23 1446.25v3.8M606.35 1446.25v3.8M542.71 1446.25v3.8M612.85 1446.25v3.8M548.82 1446.25v3.8M618.16 1446.25v3.8M553.99 1446.25v3.8M622.66 1446.25v3.8M558.47 1446.25v3.8M626.55 1446.25v3.8M562.42 1446.25v3.8M629.98 1446.25v3.8M653.25 1446.25v3.8M454.84 1446.25v3.8M429.59 1446.25v3.8M463.50 1446.25v3.8M420.75 1446.25v3.8M469.48 1446.25v3.8M414.63 1446.25v3.8M473.96 1446.25v3.8M410.06 1446.25v3.8M477.51 1446.25v3.8M406.44 1446.25v3.8M480.44 1446.25v3.8M403.44 1446.25v3.8M482.94 1446.25v3.8M400.89 1446.25v3.8M485.11 1446.25v3.8M398.67 1446.25v3.8M487.03 1446.25v3.8M396.71 1446.25v3.8" stroke="#111" stroke-width="0.9" fill="none" opacity="0.8"/>
<rect x="435.95" y="1446.25" width="11.6" height="6.4" fill="#111"/>
<text x="392.75" y="1470.95" font-size="8.8" fill="#3a3a3a" stroke="#3a3a3a" stroke-width="0.25">-10<tspan dy="-4.2" font-size="7">3</tspan></text>
<text x="444.75" y="1470.95" font-size="8.8" fill="#3a3a3a" stroke="#3a3a3a" stroke-width="0.25">0</text>
<text x="487.55" y="1470.95" font-size="8.8" fill="#3a3a3a" stroke="#3a3a3a" stroke-width="0.25">10<tspan dy="-4.2" font-size="7">3</tspan></text>
<text x="564.95" y="1470.95" font-size="8.8" fill="#3a3a3a" stroke="#3a3a3a" stroke-width="0.25">10<tspan dy="-4.2" font-size="7">4</tspan></text>
<text x="632.55" y="1470.95" font-size="8.8" fill="#3a3a3a" stroke="#3a3a3a" stroke-width="0.25">10<tspan dy="-4.2" font-size="7">5</tspan></text>
<path d="M677.45 1446.25v7.2M724.85 1446.25v7.2M771.25 1446.25v7.2M848.45 1446.25v7.2M915.55 1446.25v7.2" stroke="#111" stroke-width="1.7" fill="none"/>
<path d="M794.49 1446.25v3.8M868.65 1446.25v3.8M808.08 1446.25v3.8M880.46 1446.25v3.8M817.73 1446.25v3.8M888.85 1446.25v3.8M825.21 1446.25v3.8M895.35 1446.25v3.8M831.32 1446.25v3.8M900.66 1446.25v3.8M836.49 1446.25v3.8M905.16 1446.25v3.8M840.97 1446.25v3.8M909.05 1446.25v3.8M844.92 1446.25v3.8M912.48 1446.25v3.8M935.75 1446.25v3.8M737.34 1446.25v3.8M712.09 1446.25v3.8M746.00 1446.25v3.8M703.25 1446.25v3.8M751.98 1446.25v3.8M697.13 1446.25v3.8M756.46 1446.25v3.8M692.56 1446.25v3.8M760.01 1446.25v3.8M688.94 1446.25v3.8M762.94 1446.25v3.8M685.94 1446.25v3.8M765.44 1446.25v3.8M683.39 1446.25v3.8M767.61 1446.25v3.8M681.17 1446.25v3.8M769.53 1446.25v3.8M679.21 1446.25v3.8" stroke="#111" stroke-width="0.9" fill="none" opacity="0.8"/>
<rect x="718.45" y="1446.25" width="11.6" height="6.4" fill="#111"/>
<text x="675.25" y="1470.95" font-size="8.8" fill="#3a3a3a" stroke="#3a3a3a" stroke-width="0.25">-10<tspan dy="-4.2" font-size="7">3</tspan></text>
<text x="727.25" y="1470.95" font-size="8.8" fill="#3a3a3a" stroke="#3a3a3a" stroke-width="0.25">0</text>
<text x="770.05" y="1470.95" font-size="8.8" fill="#3a3a3a" stroke="#3a3a3a" stroke-width="0.25">10<tspan dy="-4.2" font-size="7">3</tspan></text>
<text x="847.45" y="1470.95" font-size="8.8" fill="#3a3a3a" stroke="#3a3a3a" stroke-width="0.25">10<tspan dy="-4.2" font-size="7">4</tspan></text>
<text x="915.05" y="1470.95" font-size="8.8" fill="#3a3a3a" stroke="#3a3a3a" stroke-width="0.25">10<tspan dy="-4.2" font-size="7">5</tspan></text>
<path d="M96.50 1428.35h-7.6M96.50 1380.95h-7.6M96.50 1334.55h-7.6M96.50 1257.35h-7.6M96.50 1190.25h-7.6" stroke="#111" stroke-width="1.7" fill="none"/>
<path d="M96.50 1311.31h-3.8M96.50 1237.15h-3.8M96.50 1297.72h-3.8M96.50 1225.34h-3.8M96.50 1288.07h-3.8M96.50 1216.95h-3.8M96.50 1280.59h-3.8M96.50 1210.45h-3.8M96.50 1274.48h-3.8M96.50 1205.14h-3.8M96.50 1269.31h-3.8M96.50 1200.64h-3.8M96.50 1264.83h-3.8M96.50 1196.75h-3.8M96.50 1260.88h-3.8M96.50 1193.32h-3.8M96.50 1170.05h-3.8M96.50 1368.46h-3.8M96.50 1393.71h-3.8M96.50 1359.80h-3.8M96.50 1402.55h-3.8M96.50 1353.82h-3.8M96.50 1408.67h-3.8M96.50 1349.34h-3.8M96.50 1413.24h-3.8M96.50 1345.79h-3.8M96.50 1416.86h-3.8M96.50 1342.86h-3.8M96.50 1419.86h-3.8M96.50 1340.36h-3.8M96.50 1422.41h-3.8M96.50 1338.19h-3.8M96.50 1424.63h-3.8M96.50 1336.27h-3.8M96.50 1426.59h-3.8" stroke="#111" stroke-width="0.9" fill="none" opacity="0.8"/>
<rect x="88.80" y="1374.75" width="7.8" height="12" fill="#111"/>
<text x="67.50" y="1194.45" font-size="8.8" fill="#3a3a3a" stroke="#3a3a3a" stroke-width="0.25">10<tspan dy="-4.2" font-size="7">5</tspan></text>
<text x="67.50" y="1261.55" font-size="8.8" fill="#3a3a3a" stroke="#3a3a3a" stroke-width="0.25">10<tspan dy="-4.2" font-size="7">4</tspan></text>
<text x="67.50" y="1338.75" font-size="8.8" fill="#3a3a3a" stroke="#3a3a3a" stroke-width="0.25">10<tspan dy="-4.2" font-size="7">3</tspan></text>
<text x="72.00" y="1384.95" font-size="8.8" fill="#3a3a3a" stroke="#3a3a3a" stroke-width="0.25">0</text>
<text x="64.10" y="1432.55" font-size="8.8" fill="#3a3a3a" stroke="#3a3a3a" stroke-width="0.25">-10<tspan dy="-4.2" font-size="7">3</tspan></text>
<text x="2.00" y="1371.80" font-size="26.6" textLength="68.00" lengthAdjust="spacing">CD19</text>
<text x="68.80" y="1528.60" font-size="26.6" textLength="62.00" lengthAdjust="spacing">B220</text>
<path d="M33.75 1410.30V1484.30H108.80" stroke="#000" stroke-width="3.4" fill="none" stroke-linejoin="miter"/>
<path d="M33.75 1390.30l11.3 22.5h-22.6z"/>
<path d="M128.80 1484.30l-22.5 -11.3v22.6z"/>
<g transform="translate(961.6 1162.2) rotate(90)">
<text x="0.00" y="0.00" font-size="28.4" textLength="201.50" lengthAdjust="spacing">Gated: live cells</text>
</g>
<text x="1023.60" y="1150.00" font-size="30.9" textLength="157.00" lengthAdjust="spacing"><tspan font-style="italic">Mysm1</tspan>: +/+</text>
<text x="1420.80" y="1150.00" font-size="30.9" textLength="27.50" lengthAdjust="spacing">-/-</text>
<text x="1678.40" y="1150.00" font-size="30.9" textLength="98.60" lengthAdjust="spacing">DN/DN</text>
<clipPath id="b5"><path d="M1146.5 1249.0C1147.1 1245.9 1147.3 1242.5 1150.2 1240.2C1153.2 1238.0 1157.5 1236.7 1164.0 1235.8C1170.5 1234.8 1180.2 1234.2 1189.0 1234.8C1197.8 1235.3 1208.6 1237.5 1216.5 1239.0C1224.4 1240.5 1231.5 1241.9 1236.5 1244.0C1241.5 1246.1 1245.0 1249.0 1246.5 1251.5C1248.0 1254.0 1246.9 1256.5 1245.2 1259.0C1243.6 1261.5 1240.0 1263.8 1236.5 1266.5C1233.0 1269.2 1227.3 1273.0 1224.0 1275.2C1220.7 1277.5 1219.4 1278.9 1216.5 1279.8C1213.6 1280.6 1209.2 1279.1 1206.5 1280.2C1203.8 1281.4 1201.9 1283.4 1200.2 1286.5C1198.6 1289.6 1197.9 1295.0 1196.5 1299.0C1195.1 1303.0 1192.2 1306.5 1192.0 1310.2C1191.8 1314.0 1193.5 1318.2 1195.2 1321.5C1197.0 1324.8 1200.0 1328.0 1202.8 1330.2C1205.5 1332.5 1207.1 1334.3 1211.5 1335.2C1215.9 1336.2 1223.6 1335.5 1229.0 1335.8C1234.4 1336.0 1239.8 1335.3 1244.0 1336.5C1248.2 1337.7 1251.1 1340.8 1254.0 1342.8C1256.9 1344.7 1258.6 1347.3 1261.5 1348.2C1264.4 1349.2 1268.2 1349.0 1271.5 1348.2C1274.8 1347.5 1278.6 1346.0 1281.5 1344.0C1284.4 1342.0 1286.7 1338.9 1289.0 1336.5C1291.3 1334.1 1293.2 1331.0 1295.2 1329.5C1297.3 1328.0 1299.4 1327.2 1301.5 1327.2C1303.6 1327.2 1305.9 1327.5 1307.8 1329.5C1309.6 1331.5 1310.9 1334.7 1312.8 1339.0C1314.6 1343.3 1317.3 1350.0 1319.0 1355.2C1320.7 1360.5 1322.4 1365.7 1322.8 1370.2C1323.1 1374.8 1322.2 1378.6 1321.0 1382.8C1319.8 1386.9 1318.1 1392.1 1315.2 1395.2C1312.4 1398.4 1307.5 1400.9 1304.0 1401.5C1300.5 1402.1 1297.3 1400.5 1294.0 1399.0C1290.7 1397.5 1288.2 1394.5 1284.0 1392.8C1279.8 1391.0 1274.8 1389.2 1269.0 1388.2C1263.2 1387.3 1255.7 1387.1 1249.0 1387.0C1242.3 1386.9 1235.7 1387.0 1229.0 1387.8C1222.3 1388.5 1214.8 1390.2 1209.0 1391.5C1203.2 1392.8 1199.0 1393.9 1194.0 1395.2C1189.0 1396.6 1183.6 1398.8 1179.0 1399.8C1174.4 1400.7 1170.7 1401.3 1166.5 1400.8C1162.3 1400.2 1157.5 1399.1 1154.0 1396.5C1150.5 1393.9 1147.3 1389.0 1145.2 1385.2C1143.2 1381.5 1141.5 1378.2 1141.5 1374.0C1141.5 1369.8 1143.6 1365.0 1145.2 1360.2C1146.9 1355.5 1149.4 1350.2 1151.5 1345.2C1153.6 1340.2 1155.9 1335.2 1157.8 1330.2C1159.6 1325.2 1161.7 1320.5 1162.8 1315.2C1163.8 1310.0 1164.4 1304.2 1164.0 1299.0C1163.6 1293.8 1162.3 1289.0 1160.2 1284.0C1158.2 1279.0 1153.8 1273.2 1151.5 1269.0C1149.2 1264.8 1147.3 1262.3 1146.5 1259.0C1145.7 1255.7 1145.9 1252.1 1146.5 1249.0Z"/></clipPath>
<path d="M1146.5 1249.0C1147.1 1245.9 1147.3 1242.5 1150.2 1240.2C1153.2 1238.0 1157.5 1236.7 1164.0 1235.8C1170.5 1234.8 1180.2 1234.2 1189.0 1234.8C1197.8 1235.3 1208.6 1237.5 1216.5 1239.0C1224.4 1240.5 1231.5 1241.9 1236.5 1244.0C1241.5 1246.1 1245.0 1249.0 1246.5 1251.5C1248.0 1254.0 1246.9 1256.5 1245.2 1259.0C1243.6 1261.5 1240.0 1263.8 1236.5 1266.5C1233.0 1269.2 1227.3 1273.0 1224.0 1275.2C1220.7 1277.5 1219.4 1278.9 1216.5 1279.8C1213.6 1280.6 1209.2 1279.1 1206.5 1280.2C1203.8 1281.4 1201.9 1283.4 1200.2 1286.5C1198.6 1289.6 1197.9 1295.0 1196.5 1299.0C1195.1 1303.0 1192.2 1306.5 1192.0 1310.2C1191.8 1314.0 1193.5 1318.2 1195.2 1321.5C1197.0 1324.8 1200.0 1328.0 1202.8 1330.2C1205.5 1332.5 1207.1 1334.3 1211.5 1335.2C1215.9 1336.2 1223.6 1335.5 1229.0 1335.8C1234.4 1336.0 1239.8 1335.3 1244.0 1336.5C1248.2 1337.7 1251.1 1340.8 1254.0 1342.8C1256.9 1344.7 1258.6 1347.3 1261.5 1348.2C1264.4 1349.2 1268.2 1349.0 1271.5 1348.2C1274.8 1347.5 1278.6 1346.0 1281.5 1344.0C1284.4 1342.0 1286.7 1338.9 1289.0 1336.5C1291.3 1334.1 1293.2 1331.0 1295.2 1329.5C1297.3 1328.0 1299.4 1327.2 1301.5 1327.2C1303.6 1327.2 1305.9 1327.5 1307.8 1329.5C1309.6 1331.5 1310.9 1334.7 1312.8 1339.0C1314.6 1343.3 1317.3 1350.0 1319.0 1355.2C1320.7 1360.5 1322.4 1365.7 1322.8 1370.2C1323.1 1374.8 1322.2 1378.6 1321.0 1382.8C1319.8 1386.9 1318.1 1392.1 1315.2 1395.2C1312.4 1398.4 1307.5 1400.9 1304.0 1401.5C1300.5 1402.1 1297.3 1400.5 1294.0 1399.0C1290.7 1397.5 1288.2 1394.5 1284.0 1392.8C1279.8 1391.0 1274.8 1389.2 1269.0 1388.2C1263.2 1387.3 1255.7 1387.1 1249.0 1387.0C1242.3 1386.9 1235.7 1387.0 1229.0 1387.8C1222.3 1388.5 1214.8 1390.2 1209.0 1391.5C1203.2 1392.8 1199.0 1393.9 1194.0 1395.2C1189.0 1396.6 1183.6 1398.8 1179.0 1399.8C1174.4 1400.7 1170.7 1401.3 1166.5 1400.8C1162.3 1400.2 1157.5 1399.1 1154.0 1396.5C1150.5 1393.9 1147.3 1389.0 1145.2 1385.2C1143.2 1381.5 1141.5 1378.2 1141.5 1374.0C1141.5 1369.8 1143.6 1365.0 1145.2 1360.2C1146.9 1355.5 1149.4 1350.2 1151.5 1345.2C1153.6 1340.2 1155.9 1335.2 1157.8 1330.2C1159.6 1325.2 1161.7 1320.5 1162.8 1315.2C1163.8 1310.0 1164.4 1304.2 1164.0 1299.0C1163.6 1293.8 1162.3 1289.0 1160.2 1284.0C1158.2 1279.0 1153.8 1273.2 1151.5 1269.0C1149.2 1264.8 1147.3 1262.3 1146.5 1259.0C1145.7 1255.7 1145.9 1252.1 1146.5 1249.0Z" fill="#0010ff" stroke="#3a44ff" stroke-width="0.8" stroke-opacity="0.55"/>
<g clip-path="url(#b5)">
<path d="M1146.5 1249.0C1147.1 1245.9 1147.3 1242.5 1150.2 1240.2C1153.2 1238.0 1157.5 1236.7 1164.0 1235.8C1170.5 1234.8 1180.2 1234.2 1189.0 1234.8C1197.8 1235.3 1208.6 1237.5 1216.5 1239.0C1224.4 1240.5 1231.5 1241.9 1236.5 1244.0C1241.5 1246.1 1245.0 1249.0 1246.5 1251.5C1248.0 1254.0 1246.9 1256.5 1245.2 1259.0C1243.6 1261.5 1240.0 1263.8 1236.5 1266.5C1233.0 1269.2 1227.3 1273.0 1224.0 1275.2C1220.7 1277.5 1219.4 1278.9 1216.5 1279.8C1213.6 1280.6 1209.2 1279.1 1206.5 1280.2C1203.8 1281.4 1201.9 1283.4 1200.2 1286.5C1198.6 1289.6 1197.9 1295.0 1196.5 1299.0C1195.1 1303.0 1192.2 1306.5 1192.0 1310.2C1191.8 1314.0 1193.5 1318.2 1195.2 1321.5C1197.0 1324.8 1200.0 1328.0 1202.8 1330.2C1205.5 1332.5 1207.1 1334.3 1211.5 1335.2C1215.9 1336.2 1223.6 1335.5 1229.0 1335.8C1234.4 1336.0 1239.8 1335.3 1244.0 1336.5C1248.2 1337.7 1251.1 1340.8 1254.0 1342.8C1256.9 1344.7 1258.6 1347.3 1261.5 1348.2C1264.4 1349.2 1268.2 1349.0 1271.5 1348.2C1274.8 1347.5 1278.6 1346.0 1281.5 1344.0C1284.4 1342.0 1286.7 1338.9 1289.0 1336.5C1291.3 1334.1 1293.2 1331.0 1295.2 1329.5C1297.3 1328.0 1299.4 1327.2 1301.5 1327.2C1303.6 1327.2 1305.9 1327.5 1307.8 1329.5C1309.6 1331.5 1310.9 1334.7 1312.8 1339.0C1314.6 1343.3 1317.3 1350.0 1319.0 1355.2C1320.7 1360.5 1322.4 1365.7 1322.8 1370.2C1323.1 1374.8 1322.2 1378.6 1321.0 1382.8C1319.8 1386.9 1318.1 1392.1 1315.2 1395.2C1312.4 1398.4 1307.5 1400.9 1304.0 1401.5C1300.5 1402.1 1297.3 1400.5 1294.0 1399.0C1290.7 1397.5 1288.2 1394.5 1284.0 1392.8C1279.8 1391.0 1274.8 1389.2 1269.0 1388.2C1263.2 1387.3 1255.7 1387.1 1249.0 1387.0C1242.3 1386.9 1235.7 1387.0 1229.0 1387.8C1222.3 1388.5 1214.8 1390.2 1209.0 1391.5C1203.2 1392.8 1199.0 1393.9 1194.0 1395.2C1189.0 1396.6 1183.6 1398.8 1179.0 1399.8C1174.4 1400.7 1170.7 1401.3 1166.5 1400.8C1162.3 1400.2 1157.5 1399.1 1154.0 1396.5C1150.5 1393.9 1147.3 1389.0 1145.2 1385.2C1143.2 1381.5 1141.5 1378.2 1141.5 1374.0C1141.5 1369.8 1143.6 1365.0 1145.2 1360.2C1146.9 1355.5 1149.4 1350.2 1151.5 1345.2C1153.6 1340.2 1155.9 1335.2 1157.8 1330.2C1159.6 1325.2 1161.7 1320.5 1162.8 1315.2C1163.8 1310.0 1164.4 1304.2 1164.0 1299.0C1163.6 1293.8 1162.3 1289.0 1160.2 1284.0C1158.2 1279.0 1153.8 1273.2 1151.5 1269.0C1149.2 1264.8 1147.3 1262.3 1146.5 1259.0C1145.7 1255.7 1145.9 1252.1 1146.5 1249.0Z" fill="#0034ff"/>
<path d="M1146.5 1249.0C1147.1 1245.9 1147.3 1242.5 1150.2 1240.2C1153.2 1238.0 1157.5 1236.7 1164.0 1235.8C1170.5 1234.8 1180.2 1234.2 1189.0 1234.8C1197.8 1235.3 1208.6 1237.5 1216.5 1239.0C1224.4 1240.5 1231.5 1241.9 1236.5 1244.0C1241.5 1246.1 1245.0 1249.0 1246.5 1251.5C1248.0 1254.0 1246.9 1256.5 1245.2 1259.0C1243.6 1261.5 1240.0 1263.8 1236.5 1266.5C1233.0 1269.2 1227.3 1273.0 1224.0 1275.2C1220.7 1277.5 1219.4 1278.9 1216.5 1279.8C1213.6 1280.6 1209.2 1279.1 1206.5 1280.2C1203.8 1281.4 1201.9 1283.4 1200.2 1286.5C1198.6 1289.6 1197.9 1295.0 1196.5 1299.0C1195.1 1303.0 1192.2 1306.5 1192.0 1310.2C1191.8 1314.0 1193.5 1318.2 1195.2 1321.5C1197.0 1324.8 1200.0 1328.0 1202.8 1330.2C1205.5 1332.5 1207.1 1334.3 1211.5 1335.2C1215.9 1336.2 1223.6 1335.5 1229.0 1335.8C1234.4 1336.0 1239.8 1335.3 1244.0 1336.5C1248.2 1337.7 1251.1 1340.8 1254.0 1342.8C1256.9 1344.7 1258.6 1347.3 1261.5 1348.2C1264.4 1349.2 1268.2 1349.0 1271.5 1348.2C1274.8 1347.5 1278.6 1346.0 1281.5 1344.0C1284.4 1342.0 1286.7 1338.9 1289.0 1336.5C1291.3 1334.1 1293.2 1331.0 1295.2 1329.5C1297.3 1328.0 1299.4 1327.2 1301.5 1327.2C1303.6 1327.2 1305.9 1327.5 1307.8 1329.5C1309.6 1331.5 1310.9 1334.7 1312.8 1339.0C1314.6 1343.3 1317.3 1350.0 1319.0 1355.2C1320.7 1360.5 1322.4 1365.7 1322.8 1370.2C1323.1 1374.8 1322.2 1378.6 1321.0 1382.8C1319.8 1386.9 1318.1 1392.1 1315.2 1395.2C1312.4 1398.4 1307.5 1400.9 1304.0 1401.5C1300.5 1402.1 1297.3 1400.5 1294.0 1399.0C1290.7 1397.5 1288.2 1394.5 1284.0 1392.8C1279.8 1391.0 1274.8 1389.2 1269.0 1388.2C1263.2 1387.3 1255.7 1387.1 1249.0 1387.0C1242.3 1386.9 1235.7 1387.0 1229.0 1387.8C1222.3 1388.5 1214.8 1390.2 1209.0 1391.5C1203.2 1392.8 1199.0 1393.9 1194.0 1395.2C1189.0 1396.6 1183.6 1398.8 1179.0 1399.8C1174.4 1400.7 1170.7 1401.3 1166.5 1400.8C1162.3 1400.2 1157.5 1399.1 1154.0 1396.5C1150.5 1393.9 1147.3 1389.0 1145.2 1385.2C1143.2 1381.5 1141.5 1378.2 1141.5 1374.0C1141.5 1369.8 1143.6 1365.0 1145.2 1360.2C1146.9 1355.5 1149.4 1350.2 1151.5 1345.2C1153.6 1340.2 1155.9 1335.2 1157.8 1330.2C1159.6 1325.2 1161.7 1320.5 1162.8 1315.2C1163.8 1310.0 1164.4 1304.2 1164.0 1299.0C1163.6 1293.8 1162.3 1289.0 1160.2 1284.0C1158.2 1279.0 1153.8 1273.2 1151.5 1269.0C1149.2 1264.8 1147.3 1262.3 1146.5 1259.0C1145.7 1255.7 1145.9 1252.1 1146.5 1249.0Z" fill="none" stroke="#0008ff" stroke-width="9" filter="url(#bl3)"/>
<ellipse cx="0" cy="0" rx="46" ry="21" fill="url(#g_lblue)" transform="translate(1178.00 1253.00) rotate(4)"/>
<ellipse cx="0" cy="0" rx="62" ry="20" fill="url(#g_lblue)" transform="translate(1235.00 1368.00) rotate(-4)"/>
<ellipse cx="0" cy="0" rx="20" ry="34" fill="url(#g_lblue)" transform="translate(1178.00 1340.00) rotate(0)"/>
<ellipse cx="0" cy="0" rx="22" ry="32" fill="url(#g_green)" transform="translate(1300.40 1377.40) rotate(0)"/>
<ellipse cx="0" cy="0" rx="42" ry="33" fill="url(#g_red)" transform="translate(1170.60 1377.00) rotate(0)"/>
</g>
<clipPath id="b6"><path d="M1431.2 1266.5C1431.8 1263.4 1432.7 1258.2 1435.0 1255.2C1437.3 1252.3 1440.8 1250.3 1445.0 1249.0C1449.2 1247.7 1454.2 1246.8 1460.0 1247.2C1465.8 1247.7 1473.8 1249.8 1480.0 1251.5C1486.2 1253.2 1492.7 1255.2 1497.5 1257.8C1502.3 1260.2 1507.3 1264.0 1508.8 1266.5C1510.2 1269.0 1509.0 1270.5 1506.2 1272.8C1503.5 1275.0 1497.3 1277.8 1492.5 1280.2C1487.7 1282.8 1481.7 1285.0 1477.5 1287.8C1473.3 1290.5 1470.2 1293.4 1467.5 1296.5C1464.8 1299.6 1462.9 1303.4 1461.2 1306.5C1459.6 1309.6 1458.0 1312.8 1457.5 1315.2C1457.0 1317.8 1457.0 1319.0 1458.0 1321.5C1459.0 1324.0 1461.3 1327.3 1463.8 1330.2C1466.2 1333.2 1469.0 1337.5 1472.5 1339.0C1476.0 1340.5 1480.4 1339.7 1485.0 1339.5C1489.6 1339.3 1495.0 1338.5 1500.0 1337.8C1505.0 1337.0 1510.0 1335.8 1515.0 1335.2C1520.0 1334.7 1526.0 1334.1 1530.0 1334.5C1534.0 1334.9 1537.5 1335.8 1538.8 1337.8C1540.0 1339.8 1539.0 1343.0 1537.5 1346.5C1536.0 1350.0 1532.9 1354.8 1530.0 1359.0C1527.1 1363.2 1524.2 1367.8 1520.0 1371.5C1515.8 1375.2 1510.4 1378.2 1505.0 1381.5C1499.6 1384.8 1492.9 1388.4 1487.5 1391.5C1482.1 1394.6 1477.5 1398.0 1472.5 1400.2C1467.5 1402.5 1462.5 1404.6 1457.5 1405.2C1452.5 1405.9 1446.9 1405.7 1442.5 1404.0C1438.1 1402.3 1434.0 1398.8 1431.2 1395.2C1428.5 1391.7 1426.9 1386.9 1426.2 1382.8C1425.6 1378.6 1426.0 1374.6 1427.5 1370.2C1429.0 1365.9 1432.1 1361.3 1435.0 1356.5C1437.9 1351.7 1442.3 1346.1 1445.0 1341.5C1447.7 1336.9 1449.6 1332.3 1451.2 1329.0C1452.9 1325.7 1454.4 1323.8 1455.0 1321.5C1455.6 1319.2 1455.4 1317.8 1455.0 1315.2C1454.6 1312.8 1454.2 1309.6 1452.5 1306.5C1450.8 1303.4 1447.7 1300.5 1445.0 1296.5C1442.3 1292.5 1438.4 1286.5 1436.2 1282.8C1434.1 1279.0 1432.8 1276.7 1432.0 1274.0C1431.2 1271.3 1430.8 1269.6 1431.2 1266.5Z"/></clipPath>
<path d="M1431.2 1266.5C1431.8 1263.4 1432.7 1258.2 1435.0 1255.2C1437.3 1252.3 1440.8 1250.3 1445.0 1249.0C1449.2 1247.7 1454.2 1246.8 1460.0 1247.2C1465.8 1247.7 1473.8 1249.8 1480.0 1251.5C1486.2 1253.2 1492.7 1255.2 1497.5 1257.8C1502.3 1260.2 1507.3 1264.0 1508.8 1266.5C1510.2 1269.0 1509.0 1270.5 1506.2 1272.8C1503.5 1275.0 1497.3 1277.8 1492.5 1280.2C1487.7 1282.8 1481.7 1285.0 1477.5 1287.8C1473.3 1290.5 1470.2 1293.4 1467.5 1296.5C1464.8 1299.6 1462.9 1303.4 1461.2 1306.5C1459.6 1309.6 1458.0 1312.8 1457.5 1315.2C1457.0 1317.8 1457.0 1319.0 1458.0 1321.5C1459.0 1324.0 1461.3 1327.3 1463.8 1330.2C1466.2 1333.2 1469.0 1337.5 1472.5 1339.0C1476.0 1340.5 1480.4 1339.7 1485.0 1339.5C1489.6 1339.3 1495.0 1338.5 1500.0 1337.8C1505.0 1337.0 1510.0 1335.8 1515.0 1335.2C1520.0 1334.7 1526.0 1334.1 1530.0 1334.5C1534.0 1334.9 1537.5 1335.8 1538.8 1337.8C1540.0 1339.8 1539.0 1343.0 1537.5 1346.5C1536.0 1350.0 1532.9 1354.8 1530.0 1359.0C1527.1 1363.2 1524.2 1367.8 1520.0 1371.5C1515.8 1375.2 1510.4 1378.2 1505.0 1381.5C1499.6 1384.8 1492.9 1388.4 1487.5 1391.5C1482.1 1394.6 1477.5 1398.0 1472.5 1400.2C1467.5 1402.5 1462.5 1404.6 1457.5 1405.2C1452.5 1405.9 1446.9 1405.7 1442.5 1404.0C1438.1 1402.3 1434.0 1398.8 1431.2 1395.2C1428.5 1391.7 1426.9 1386.9 1426.2 1382.8C1425.6 1378.6 1426.0 1374.6 1427.5 1370.2C1429.0 1365.9 1432.1 1361.3 1435.0 1356.5C1437.9 1351.7 1442.3 1346.1 1445.0 1341.5C1447.7 1336.9 1449.6 1332.3 1451.2 1329.0C1452.9 1325.7 1454.4 1323.8 1455.0 1321.5C1455.6 1319.2 1455.4 1317.8 1455.0 1315.2C1454.6 1312.8 1454.2 1309.6 1452.5 1306.5C1450.8 1303.4 1447.7 1300.5 1445.0 1296.5C1442.3 1292.5 1438.4 1286.5 1436.2 1282.8C1434.1 1279.0 1432.8 1276.7 1432.0 1274.0C1431.2 1271.3 1430.8 1269.6 1431.2 1266.5Z" fill="#0010ff" stroke="#3a44ff" stroke-width="0.8" stroke-opacity="0.55"/>
<g clip-path="url(#b6)">
<path d="M1431.2 1266.5C1431.8 1263.4 1432.7 1258.2 1435.0 1255.2C1437.3 1252.3 1440.8 1250.3 1445.0 1249.0C1449.2 1247.7 1454.2 1246.8 1460.0 1247.2C1465.8 1247.7 1473.8 1249.8 1480.0 1251.5C1486.2 1253.2 1492.7 1255.2 1497.5 1257.8C1502.3 1260.2 1507.3 1264.0 1508.8 1266.5C1510.2 1269.0 1509.0 1270.5 1506.2 1272.8C1503.5 1275.0 1497.3 1277.8 1492.5 1280.2C1487.7 1282.8 1481.7 1285.0 1477.5 1287.8C1473.3 1290.5 1470.2 1293.4 1467.5 1296.5C1464.8 1299.6 1462.9 1303.4 1461.2 1306.5C1459.6 1309.6 1458.0 1312.8 1457.5 1315.2C1457.0 1317.8 1457.0 1319.0 1458.0 1321.5C1459.0 1324.0 1461.3 1327.3 1463.8 1330.2C1466.2 1333.2 1469.0 1337.5 1472.5 1339.0C1476.0 1340.5 1480.4 1339.7 1485.0 1339.5C1489.6 1339.3 1495.0 1338.5 1500.0 1337.8C1505.0 1337.0 1510.0 1335.8 1515.0 1335.2C1520.0 1334.7 1526.0 1334.1 1530.0 1334.5C1534.0 1334.9 1537.5 1335.8 1538.8 1337.8C1540.0 1339.8 1539.0 1343.0 1537.5 1346.5C1536.0 1350.0 1532.9 1354.8 1530.0 1359.0C1527.1 1363.2 1524.2 1367.8 1520.0 1371.5C1515.8 1375.2 1510.4 1378.2 1505.0 1381.5C1499.6 1384.8 1492.9 1388.4 1487.5 1391.5C1482.1 1394.6 1477.5 1398.0 1472.5 1400.2C1467.5 1402.5 1462.5 1404.6 1457.5 1405.2C1452.5 1405.9 1446.9 1405.7 1442.5 1404.0C1438.1 1402.3 1434.0 1398.8 1431.2 1395.2C1428.5 1391.7 1426.9 1386.9 1426.2 1382.8C1425.6 1378.6 1426.0 1374.6 1427.5 1370.2C1429.0 1365.9 1432.1 1361.3 1435.0 1356.5C1437.9 1351.7 1442.3 1346.1 1445.0 1341.5C1447.7 1336.9 1449.6 1332.3 1451.2 1329.0C1452.9 1325.7 1454.4 1323.8 1455.0 1321.5C1455.6 1319.2 1455.4 1317.8 1455.0 1315.2C1454.6 1312.8 1454.2 1309.6 1452.5 1306.5C1450.8 1303.4 1447.7 1300.5 1445.0 1296.5C1442.3 1292.5 1438.4 1286.5 1436.2 1282.8C1434.1 1279.0 1432.8 1276.7 1432.0 1274.0C1431.2 1271.3 1430.8 1269.6 1431.2 1266.5Z" fill="#0034ff"/>
<path d="M1431.2 1266.5C1431.8 1263.4 1432.7 1258.2 1435.0 1255.2C1437.3 1252.3 1440.8 1250.3 1445.0 1249.0C1449.2 1247.7 1454.2 1246.8 1460.0 1247.2C1465.8 1247.7 1473.8 1249.8 1480.0 1251.5C1486.2 1253.2 1492.7 1255.2 1497.5 1257.8C1502.3 1260.2 1507.3 1264.0 1508.8 1266.5C1510.2 1269.0 1509.0 1270.5 1506.2 1272.8C1503.5 1275.0 1497.3 1277.8 1492.5 1280.2C1487.7 1282.8 1481.7 1285.0 1477.5 1287.8C1473.3 1290.5 1470.2 1293.4 1467.5 1296.5C1464.8 1299.6 1462.9 1303.4 1461.2 1306.5C1459.6 1309.6 1458.0 1312.8 1457.5 1315.2C1457.0 1317.8 1457.0 1319.0 1458.0 1321.5C1459.0 1324.0 1461.3 1327.3 1463.8 1330.2C1466.2 1333.2 1469.0 1337.5 1472.5 1339.0C1476.0 1340.5 1480.4 1339.7 1485.0 1339.5C1489.6 1339.3 1495.0 1338.5 1500.0 1337.8C1505.0 1337.0 1510.0 1335.8 1515.0 1335.2C1520.0 1334.7 1526.0 1334.1 1530.0 1334.5C1534.0 1334.9 1537.5 1335.8 1538.8 1337.8C1540.0 1339.8 1539.0 1343.0 1537.5 1346.5C1536.0 1350.0 1532.9 1354.8 1530.0 1359.0C1527.1 1363.2 1524.2 1367.8 1520.0 1371.5C1515.8 1375.2 1510.4 1378.2 1505.0 1381.5C1499.6 1384.8 1492.9 1388.4 1487.5 1391.5C1482.1 1394.6 1477.5 1398.0 1472.5 1400.2C1467.5 1402.5 1462.5 1404.6 1457.5 1405.2C1452.5 1405.9 1446.9 1405.7 1442.5 1404.0C1438.1 1402.3 1434.0 1398.8 1431.2 1395.2C1428.5 1391.7 1426.9 1386.9 1426.2 1382.8C1425.6 1378.6 1426.0 1374.6 1427.5 1370.2C1429.0 1365.9 1432.1 1361.3 1435.0 1356.5C1437.9 1351.7 1442.3 1346.1 1445.0 1341.5C1447.7 1336.9 1449.6 1332.3 1451.2 1329.0C1452.9 1325.7 1454.4 1323.8 1455.0 1321.5C1455.6 1319.2 1455.4 1317.8 1455.0 1315.2C1454.6 1312.8 1454.2 1309.6 1452.5 1306.5C1450.8 1303.4 1447.7 1300.5 1445.0 1296.5C1442.3 1292.5 1438.4 1286.5 1436.2 1282.8C1434.1 1279.0 1432.8 1276.7 1432.0 1274.0C1431.2 1271.3 1430.8 1269.6 1431.2 1266.5Z" fill="none" stroke="#0008ff" stroke-width="9" filter="url(#bl3)"/>
<ellipse cx="0" cy="0" rx="34" ry="18" fill="url(#g_lblue)" transform="translate(1458.00 1267.00) rotate(4)"/>
<ellipse cx="0" cy="0" rx="50" ry="18" fill="url(#g_lblue)" transform="translate(1490.00 1362.00) rotate(-28)"/>
<ellipse cx="0" cy="0" rx="33" ry="26" fill="url(#g_red)" transform="translate(1453.80 1381.60) rotate(0)"/>
</g>
<clipPath id="b7"><path d="M1543.8 1375.2C1544.8 1372.8 1549.4 1370.0 1552.5 1366.5C1555.6 1363.0 1559.4 1358.6 1562.5 1354.0C1565.6 1349.4 1568.3 1342.5 1571.2 1339.0C1574.2 1335.5 1577.3 1333.9 1580.0 1333.2C1582.7 1332.6 1585.2 1333.0 1587.5 1335.2C1589.8 1337.5 1591.7 1342.1 1593.8 1346.5C1595.8 1350.9 1598.8 1356.9 1600.0 1361.5C1601.2 1366.1 1601.9 1369.8 1601.2 1374.0C1600.6 1378.2 1598.5 1383.0 1596.2 1386.5C1594.0 1390.0 1590.6 1393.2 1587.5 1395.2C1584.4 1397.2 1581.2 1398.5 1577.5 1398.5C1573.8 1398.5 1569.2 1397.0 1565.0 1395.2C1560.8 1393.5 1555.6 1390.0 1552.5 1387.8C1549.4 1385.5 1547.7 1383.6 1546.2 1381.5C1544.8 1379.4 1542.7 1377.8 1543.8 1375.2Z"/></clipPath>
<path d="M1543.8 1375.2C1544.8 1372.8 1549.4 1370.0 1552.5 1366.5C1555.6 1363.0 1559.4 1358.6 1562.5 1354.0C1565.6 1349.4 1568.3 1342.5 1571.2 1339.0C1574.2 1335.5 1577.3 1333.9 1580.0 1333.2C1582.7 1332.6 1585.2 1333.0 1587.5 1335.2C1589.8 1337.5 1591.7 1342.1 1593.8 1346.5C1595.8 1350.9 1598.8 1356.9 1600.0 1361.5C1601.2 1366.1 1601.9 1369.8 1601.2 1374.0C1600.6 1378.2 1598.5 1383.0 1596.2 1386.5C1594.0 1390.0 1590.6 1393.2 1587.5 1395.2C1584.4 1397.2 1581.2 1398.5 1577.5 1398.5C1573.8 1398.5 1569.2 1397.0 1565.0 1395.2C1560.8 1393.5 1555.6 1390.0 1552.5 1387.8C1549.4 1385.5 1547.7 1383.6 1546.2 1381.5C1544.8 1379.4 1542.7 1377.8 1543.8 1375.2Z" fill="#0010ff" stroke="#3a44ff" stroke-width="0.8" stroke-opacity="0.55"/>
<g clip-path="url(#b7)">
<path d="M1543.8 1375.2C1544.8 1372.8 1549.4 1370.0 1552.5 1366.5C1555.6 1363.0 1559.4 1358.6 1562.5 1354.0C1565.6 1349.4 1568.3 1342.5 1571.2 1339.0C1574.2 1335.5 1577.3 1333.9 1580.0 1333.2C1582.7 1332.6 1585.2 1333.0 1587.5 1335.2C1589.8 1337.5 1591.7 1342.1 1593.8 1346.5C1595.8 1350.9 1598.8 1356.9 1600.0 1361.5C1601.2 1366.1 1601.9 1369.8 1601.2 1374.0C1600.6 1378.2 1598.5 1383.0 1596.2 1386.5C1594.0 1390.0 1590.6 1393.2 1587.5 1395.2C1584.4 1397.2 1581.2 1398.5 1577.5 1398.5C1573.8 1398.5 1569.2 1397.0 1565.0 1395.2C1560.8 1393.5 1555.6 1390.0 1552.5 1387.8C1549.4 1385.5 1547.7 1383.6 1546.2 1381.5C1544.8 1379.4 1542.7 1377.8 1543.8 1375.2Z" fill="#0034ff"/>
<path d="M1543.8 1375.2C1544.8 1372.8 1549.4 1370.0 1552.5 1366.5C1555.6 1363.0 1559.4 1358.6 1562.5 1354.0C1565.6 1349.4 1568.3 1342.5 1571.2 1339.0C1574.2 1335.5 1577.3 1333.9 1580.0 1333.2C1582.7 1332.6 1585.2 1333.0 1587.5 1335.2C1589.8 1337.5 1591.7 1342.1 1593.8 1346.5C1595.8 1350.9 1598.8 1356.9 1600.0 1361.5C1601.2 1366.1 1601.9 1369.8 1601.2 1374.0C1600.6 1378.2 1598.5 1383.0 1596.2 1386.5C1594.0 1390.0 1590.6 1393.2 1587.5 1395.2C1584.4 1397.2 1581.2 1398.5 1577.5 1398.5C1573.8 1398.5 1569.2 1397.0 1565.0 1395.2C1560.8 1393.5 1555.6 1390.0 1552.5 1387.8C1549.4 1385.5 1547.7 1383.6 1546.2 1381.5C1544.8 1379.4 1542.7 1377.8 1543.8 1375.2Z" fill="none" stroke="#0008ff" stroke-width="9" filter="url(#bl3)"/>
<ellipse cx="0" cy="0" rx="19" ry="27" fill="url(#g_cyan)" transform="translate(1578.80 1375.30) rotate(0)"/>
</g>
<clipPath id="b8"><path d="M1712.0 1266.5C1712.0 1262.8 1712.8 1257.5 1715.0 1254.0C1717.2 1250.5 1720.8 1247.0 1725.0 1245.2C1729.2 1243.5 1735.0 1243.0 1740.0 1243.2C1745.0 1243.5 1750.4 1244.7 1755.0 1246.5C1759.6 1248.3 1762.9 1252.3 1767.5 1254.0C1772.1 1255.7 1778.5 1254.8 1782.5 1256.5C1786.5 1258.2 1790.0 1261.5 1791.2 1264.0C1792.5 1266.5 1791.9 1268.8 1790.0 1271.5C1788.1 1274.2 1783.8 1277.5 1780.0 1280.2C1776.2 1283.0 1771.0 1285.0 1767.5 1287.8C1764.0 1290.5 1761.0 1293.0 1758.8 1296.5C1756.5 1300.0 1755.0 1304.8 1753.8 1309.0C1752.5 1313.2 1751.5 1317.8 1751.2 1321.5C1751.0 1325.2 1750.6 1329.0 1752.5 1331.5C1754.4 1334.0 1757.9 1335.7 1762.5 1336.5C1767.1 1337.3 1773.3 1336.8 1780.0 1336.5C1786.7 1336.2 1796.9 1334.8 1802.5 1334.8C1808.1 1334.8 1811.3 1335.2 1813.8 1336.5C1816.2 1337.8 1816.8 1339.8 1817.0 1342.8C1817.2 1345.7 1816.0 1350.0 1815.0 1354.0C1814.0 1358.0 1809.6 1364.8 1811.2 1366.5C1812.9 1368.2 1820.6 1365.7 1825.0 1364.0C1829.4 1362.3 1833.8 1359.8 1837.5 1356.5C1841.2 1353.2 1844.6 1347.8 1847.5 1344.0C1850.4 1340.2 1852.3 1335.9 1855.0 1334.0C1857.7 1332.1 1861.0 1331.5 1863.8 1332.8C1866.5 1334.0 1869.0 1337.5 1871.2 1341.5C1873.5 1345.5 1876.0 1350.9 1877.5 1356.5C1879.0 1362.1 1880.2 1369.6 1880.3 1375.0C1880.4 1380.4 1879.4 1385.2 1878.0 1389.0C1876.6 1392.8 1874.7 1395.6 1872.0 1397.5C1869.3 1399.4 1865.2 1400.2 1862.0 1400.5C1858.8 1400.8 1856.2 1400.3 1852.5 1399.0C1848.8 1397.7 1844.2 1395.5 1840.0 1392.8C1835.8 1390.0 1831.7 1385.2 1827.5 1382.8C1823.3 1380.2 1819.2 1378.6 1815.0 1377.8C1810.8 1376.9 1806.7 1376.7 1802.5 1377.8C1798.3 1378.8 1794.6 1381.5 1790.0 1384.0C1785.4 1386.5 1780.0 1390.0 1775.0 1392.8C1770.0 1395.5 1765.0 1398.0 1760.0 1400.2C1755.0 1402.5 1750.0 1405.5 1745.0 1406.5C1740.0 1407.5 1734.6 1407.5 1730.0 1406.5C1725.4 1405.5 1721.0 1403.2 1717.5 1400.2C1714.0 1397.3 1710.6 1392.5 1708.8 1389.0C1706.9 1385.5 1706.0 1382.8 1706.2 1379.0C1706.5 1375.2 1708.1 1371.1 1710.0 1366.5C1711.9 1361.9 1715.2 1356.5 1717.5 1351.5C1719.8 1346.5 1722.3 1341.5 1723.8 1336.5C1725.2 1331.5 1725.8 1326.9 1726.2 1321.5C1726.7 1316.1 1727.1 1309.4 1726.2 1304.0C1725.4 1298.6 1723.1 1293.6 1721.2 1289.0C1719.4 1284.4 1716.5 1280.2 1715.0 1276.5C1713.5 1272.8 1712.0 1270.2 1712.0 1266.5Z"/></clipPath>
<path d="M1712.0 1266.5C1712.0 1262.8 1712.8 1257.5 1715.0 1254.0C1717.2 1250.5 1720.8 1247.0 1725.0 1245.2C1729.2 1243.5 1735.0 1243.0 1740.0 1243.2C1745.0 1243.5 1750.4 1244.7 1755.0 1246.5C1759.6 1248.3 1762.9 1252.3 1767.5 1254.0C1772.1 1255.7 1778.5 1254.8 1782.5 1256.5C1786.5 1258.2 1790.0 1261.5 1791.2 1264.0C1792.5 1266.5 1791.9 1268.8 1790.0 1271.5C1788.1 1274.2 1783.8 1277.5 1780.0 1280.2C1776.2 1283.0 1771.0 1285.0 1767.5 1287.8C1764.0 1290.5 1761.0 1293.0 1758.8 1296.5C1756.5 1300.0 1755.0 1304.8 1753.8 1309.0C1752.5 1313.2 1751.5 1317.8 1751.2 1321.5C1751.0 1325.2 1750.6 1329.0 1752.5 1331.5C1754.4 1334.0 1757.9 1335.7 1762.5 1336.5C1767.1 1337.3 1773.3 1336.8 1780.0 1336.5C1786.7 1336.2 1796.9 1334.8 1802.5 1334.8C1808.1 1334.8 1811.3 1335.2 1813.8 1336.5C1816.2 1337.8 1816.8 1339.8 1817.0 1342.8C1817.2 1345.7 1816.0 1350.0 1815.0 1354.0C1814.0 1358.0 1809.6 1364.8 1811.2 1366.5C1812.9 1368.2 1820.6 1365.7 1825.0 1364.0C1829.4 1362.3 1833.8 1359.8 1837.5 1356.5C1841.2 1353.2 1844.6 1347.8 1847.5 1344.0C1850.4 1340.2 1852.3 1335.9 1855.0 1334.0C1857.7 1332.1 1861.0 1331.5 1863.8 1332.8C1866.5 1334.0 1869.0 1337.5 1871.2 1341.5C1873.5 1345.5 1876.0 1350.9 1877.5 1356.5C1879.0 1362.1 1880.2 1369.6 1880.3 1375.0C1880.4 1380.4 1879.4 1385.2 1878.0 1389.0C1876.6 1392.8 1874.7 1395.6 1872.0 1397.5C1869.3 1399.4 1865.2 1400.2 1862.0 1400.5C1858.8 1400.8 1856.2 1400.3 1852.5 1399.0C1848.8 1397.7 1844.2 1395.5 1840.0 1392.8C1835.8 1390.0 1831.7 1385.2 1827.5 1382.8C1823.3 1380.2 1819.2 1378.6 1815.0 1377.8C1810.8 1376.9 1806.7 1376.7 1802.5 1377.8C1798.3 1378.8 1794.6 1381.5 1790.0 1384.0C1785.4 1386.5 1780.0 1390.0 1775.0 1392.8C1770.0 1395.5 1765.0 1398.0 1760.0 1400.2C1755.0 1402.5 1750.0 1405.5 1745.0 1406.5C1740.0 1407.5 1734.6 1407.5 1730.0 1406.5C1725.4 1405.5 1721.0 1403.2 1717.5 1400.2C1714.0 1397.3 1710.6 1392.5 1708.8 1389.0C1706.9 1385.5 1706.0 1382.8 1706.2 1379.0C1706.5 1375.2 1708.1 1371.1 1710.0 1366.5C1711.9 1361.9 1715.2 1356.5 1717.5 1351.5C1719.8 1346.5 1722.3 1341.5 1723.8 1336.5C1725.2 1331.5 1725.8 1326.9 1726.2 1321.5C1726.7 1316.1 1727.1 1309.4 1726.2 1304.0C1725.4 1298.6 1723.1 1293.6 1721.2 1289.0C1719.4 1284.4 1716.5 1280.2 1715.0 1276.5C1713.5 1272.8 1712.0 1270.2 1712.0 1266.5Z" fill="#0010ff" stroke="#3a44ff" stroke-width="0.8" stroke-opacity="0.55"/>
<g clip-path="url(#b8)">
<path d="M1712.0 1266.5C1712.0 1262.8 1712.8 1257.5 1715.0 1254.0C1717.2 1250.5 1720.8 1247.0 1725.0 1245.2C1729.2 1243.5 1735.0 1243.0 1740.0 1243.2C1745.0 1243.5 1750.4 1244.7 1755.0 1246.5C1759.6 1248.3 1762.9 1252.3 1767.5 1254.0C1772.1 1255.7 1778.5 1254.8 1782.5 1256.5C1786.5 1258.2 1790.0 1261.5 1791.2 1264.0C1792.5 1266.5 1791.9 1268.8 1790.0 1271.5C1788.1 1274.2 1783.8 1277.5 1780.0 1280.2C1776.2 1283.0 1771.0 1285.0 1767.5 1287.8C1764.0 1290.5 1761.0 1293.0 1758.8 1296.5C1756.5 1300.0 1755.0 1304.8 1753.8 1309.0C1752.5 1313.2 1751.5 1317.8 1751.2 1321.5C1751.0 1325.2 1750.6 1329.0 1752.5 1331.5C1754.4 1334.0 1757.9 1335.7 1762.5 1336.5C1767.1 1337.3 1773.3 1336.8 1780.0 1336.5C1786.7 1336.2 1796.9 1334.8 1802.5 1334.8C1808.1 1334.8 1811.3 1335.2 1813.8 1336.5C1816.2 1337.8 1816.8 1339.8 1817.0 1342.8C1817.2 1345.7 1816.0 1350.0 1815.0 1354.0C1814.0 1358.0 1809.6 1364.8 1811.2 1366.5C1812.9 1368.2 1820.6 1365.7 1825.0 1364.0C1829.4 1362.3 1833.8 1359.8 1837.5 1356.5C1841.2 1353.2 1844.6 1347.8 1847.5 1344.0C1850.4 1340.2 1852.3 1335.9 1855.0 1334.0C1857.7 1332.1 1861.0 1331.5 1863.8 1332.8C1866.5 1334.0 1869.0 1337.5 1871.2 1341.5C1873.5 1345.5 1876.0 1350.9 1877.5 1356.5C1879.0 1362.1 1880.2 1369.6 1880.3 1375.0C1880.4 1380.4 1879.4 1385.2 1878.0 1389.0C1876.6 1392.8 1874.7 1395.6 1872.0 1397.5C1869.3 1399.4 1865.2 1400.2 1862.0 1400.5C1858.8 1400.8 1856.2 1400.3 1852.5 1399.0C1848.8 1397.7 1844.2 1395.5 1840.0 1392.8C1835.8 1390.0 1831.7 1385.2 1827.5 1382.8C1823.3 1380.2 1819.2 1378.6 1815.0 1377.8C1810.8 1376.9 1806.7 1376.7 1802.5 1377.8C1798.3 1378.8 1794.6 1381.5 1790.0 1384.0C1785.4 1386.5 1780.0 1390.0 1775.0 1392.8C1770.0 1395.5 1765.0 1398.0 1760.0 1400.2C1755.0 1402.5 1750.0 1405.5 1745.0 1406.5C1740.0 1407.5 1734.6 1407.5 1730.0 1406.5C1725.4 1405.5 1721.0 1403.2 1717.5 1400.2C1714.0 1397.3 1710.6 1392.5 1708.8 1389.0C1706.9 1385.5 1706.0 1382.8 1706.2 1379.0C1706.5 1375.2 1708.1 1371.1 1710.0 1366.5C1711.9 1361.9 1715.2 1356.5 1717.5 1351.5C1719.8 1346.5 1722.3 1341.5 1723.8 1336.5C1725.2 1331.5 1725.8 1326.9 1726.2 1321.5C1726.7 1316.1 1727.1 1309.4 1726.2 1304.0C1725.4 1298.6 1723.1 1293.6 1721.2 1289.0C1719.4 1284.4 1716.5 1280.2 1715.0 1276.5C1713.5 1272.8 1712.0 1270.2 1712.0 1266.5Z" fill="#0034ff"/>
<path d="M1712.0 1266.5C1712.0 1262.8 1712.8 1257.5 1715.0 1254.0C1717.2 1250.5 1720.8 1247.0 1725.0 1245.2C1729.2 1243.5 1735.0 1243.0 1740.0 1243.2C1745.0 1243.5 1750.4 1244.7 1755.0 1246.5C1759.6 1248.3 1762.9 1252.3 1767.5 1254.0C1772.1 1255.7 1778.5 1254.8 1782.5 1256.5C1786.5 1258.2 1790.0 1261.5 1791.2 1264.0C1792.5 1266.5 1791.9 1268.8 1790.0 1271.5C1788.1 1274.2 1783.8 1277.5 1780.0 1280.2C1776.2 1283.0 1771.0 1285.0 1767.5 1287.8C1764.0 1290.5 1761.0 1293.0 1758.8 1296.5C1756.5 1300.0 1755.0 1304.8 1753.8 1309.0C1752.5 1313.2 1751.5 1317.8 1751.2 1321.5C1751.0 1325.2 1750.6 1329.0 1752.5 1331.5C1754.4 1334.0 1757.9 1335.7 1762.5 1336.5C1767.1 1337.3 1773.3 1336.8 1780.0 1336.5C1786.7 1336.2 1796.9 1334.8 1802.5 1334.8C1808.1 1334.8 1811.3 1335.2 1813.8 1336.5C1816.2 1337.8 1816.8 1339.8 1817.0 1342.8C1817.2 1345.7 1816.0 1350.0 1815.0 1354.0C1814.0 1358.0 1809.6 1364.8 1811.2 1366.5C1812.9 1368.2 1820.6 1365.7 1825.0 1364.0C1829.4 1362.3 1833.8 1359.8 1837.5 1356.5C1841.2 1353.2 1844.6 1347.8 1847.5 1344.0C1850.4 1340.2 1852.3 1335.9 1855.0 1334.0C1857.7 1332.1 1861.0 1331.5 1863.8 1332.8C1866.5 1334.0 1869.0 1337.5 1871.2 1341.5C1873.5 1345.5 1876.0 1350.9 1877.5 1356.5C1879.0 1362.1 1880.2 1369.6 1880.3 1375.0C1880.4 1380.4 1879.4 1385.2 1878.0 1389.0C1876.6 1392.8 1874.7 1395.6 1872.0 1397.5C1869.3 1399.4 1865.2 1400.2 1862.0 1400.5C1858.8 1400.8 1856.2 1400.3 1852.5 1399.0C1848.8 1397.7 1844.2 1395.5 1840.0 1392.8C1835.8 1390.0 1831.7 1385.2 1827.5 1382.8C1823.3 1380.2 1819.2 1378.6 1815.0 1377.8C1810.8 1376.9 1806.7 1376.7 1802.5 1377.8C1798.3 1378.8 1794.6 1381.5 1790.0 1384.0C1785.4 1386.5 1780.0 1390.0 1775.0 1392.8C1770.0 1395.5 1765.0 1398.0 1760.0 1400.2C1755.0 1402.5 1750.0 1405.5 1745.0 1406.5C1740.0 1407.5 1734.6 1407.5 1730.0 1406.5C1725.4 1405.5 1721.0 1403.2 1717.5 1400.2C1714.0 1397.3 1710.6 1392.5 1708.8 1389.0C1706.9 1385.5 1706.0 1382.8 1706.2 1379.0C1706.5 1375.2 1708.1 1371.1 1710.0 1366.5C1711.9 1361.9 1715.2 1356.5 1717.5 1351.5C1719.8 1346.5 1722.3 1341.5 1723.8 1336.5C1725.2 1331.5 1725.8 1326.9 1726.2 1321.5C1726.7 1316.1 1727.1 1309.4 1726.2 1304.0C1725.4 1298.6 1723.1 1293.6 1721.2 1289.0C1719.4 1284.4 1716.5 1280.2 1715.0 1276.5C1713.5 1272.8 1712.0 1270.2 1712.0 1266.5Z" fill="none" stroke="#0008ff" stroke-width="9" filter="url(#bl3)"/>
<ellipse cx="0" cy="0" rx="32" ry="19" fill="url(#g_lblue)" transform="translate(1742.00 1265.00) rotate(0)"/>
<ellipse cx="0" cy="0" rx="42" ry="18" fill="url(#g_lblue)" transform="translate(1768.00 1362.00) rotate(-20)"/>
<ellipse cx="0" cy="0" rx="19" ry="27" fill="url(#g_cyan)" transform="translate(1857.60 1375.30) rotate(0)"/>
<ellipse cx="0" cy="0" rx="33" ry="26" fill="url(#g_red)" transform="translate(1734.50 1382.00) rotate(0)"/>
</g>
<rect x="1106" y="1163.8" width="848" height="3.3" fill="#cfcfcf"/>
<rect x="1106" y="1444.4" width="848" height="3.2" fill="#c4c4c4"/>
<path d="M1106.6 1164V1447" stroke="#7a7a7a" stroke-width="2" fill="none"/>
<path d="M1388.6 1164V1447M1670.6 1164V1447" stroke="#777" stroke-width="1.6" fill="none"/>
<path d="M1108.25 1170.75H1267.45V1316.5H1108.25ZM1391.75 1170.75H1550.95V1316.5H1391.75ZM1673.75 1170.75H1832.95V1316.5H1673.75ZM1267.35 1316.5V1434.75H1387.25V1293.25H1267.35M1551.1 1316.5V1434.75H1670.0V1293.25H1551.1M1833.1 1316.5V1434.75H1952.7V1293.25H1833.1" stroke="#000" stroke-width="1.1" fill="none"/>
<text x="1126.00" y="1198.90" font-size="27.0" textLength="66.50" lengthAdjust="spacing">7±2%</text>
<text x="1409.40" y="1198.90" font-size="27.0" textLength="66.50" lengthAdjust="spacing">3±2%</text>
<text x="1693.00" y="1198.90" font-size="27.0" textLength="66.50" lengthAdjust="spacing">5±3%</text>
<text x="1305.00" y="1430.80" font-size="27.0" textLength="80.00" lengthAdjust="spacing">17±2%</text>
<text x="1582.40" y="1430.80" font-size="27.0" textLength="80.50" lengthAdjust="spacing">10±7%</text>
<text x="1866.80" y="1430.20" font-size="27.0" textLength="80.50" lengthAdjust="spacing">14±5%</text>
<path d="M1122.70 1447.10v7.2M1170.10 1447.10v7.2M1216.50 1447.10v7.2M1293.70 1447.10v7.2M1360.80 1447.10v7.2" stroke="#111" stroke-width="1.7" fill="none"/>
<path d="M1239.74 1447.10v3.8M1313.90 1447.10v3.8M1253.33 1447.10v3.8M1325.71 1447.10v3.8M1262.98 1447.10v3.8M1334.10 1447.10v3.8M1270.46 1447.10v3.8M1340.60 1447.10v3.8M1276.57 1447.10v3.8M1345.91 1447.10v3.8M1281.74 1447.10v3.8M1350.41 1447.10v3.8M1286.22 1447.10v3.8M1354.30 1447.10v3.8M1290.17 1447.10v3.8M1357.73 1447.10v3.8M1381.00 1447.10v3.8M1182.59 1447.10v3.8M1157.34 1447.10v3.8M1191.25 1447.10v3.8M1148.50 1447.10v3.8M1197.23 1447.10v3.8M1142.38 1447.10v3.8M1201.71 1447.10v3.8M1137.81 1447.10v3.8M1205.26 1447.10v3.8M1134.19 1447.10v3.8M1208.19 1447.10v3.8M1131.19 1447.10v3.8M1210.69 1447.10v3.8M1128.64 1447.10v3.8M1212.86 1447.10v3.8M1126.42 1447.10v3.8M1214.78 1447.10v3.8M1124.46 1447.10v3.8" stroke="#111" stroke-width="0.9" fill="none" opacity="0.8"/>
<rect x="1163.70" y="1447.10" width="11.6" height="6.4" fill="#111"/>
<text x="1120.50" y="1471.80" font-size="8.8" fill="#3a3a3a" stroke="#3a3a3a" stroke-width="0.25">-10<tspan dy="-4.2" font-size="7">3</tspan></text>
<text x="1172.50" y="1471.80" font-size="8.8" fill="#3a3a3a" stroke="#3a3a3a" stroke-width="0.25">0</text>
<text x="1215.30" y="1471.80" font-size="8.8" fill="#3a3a3a" stroke="#3a3a3a" stroke-width="0.25">10<tspan dy="-4.2" font-size="7">3</tspan></text>
<text x="1292.70" y="1471.80" font-size="8.8" fill="#3a3a3a" stroke="#3a3a3a" stroke-width="0.25">10<tspan dy="-4.2" font-size="7">4</tspan></text>
<text x="1360.30" y="1471.80" font-size="8.8" fill="#3a3a3a" stroke="#3a3a3a" stroke-width="0.25">10<tspan dy="-4.2" font-size="7">5</tspan></text>
<path d="M1404.70 1447.10v7.2M1452.10 1447.10v7.2M1498.50 1447.10v7.2M1575.70 1447.10v7.2M1642.80 1447.10v7.2" stroke="#111" stroke-width="1.7" fill="none"/>
<path d="M1521.74 1447.10v3.8M1595.90 1447.10v3.8M1535.33 1447.10v3.8M1607.71 1447.10v3.8M1544.98 1447.10v3.8M1616.10 1447.10v3.8M1552.46 1447.10v3.8M1622.60 1447.10v3.8M1558.57 1447.10v3.8M1627.91 1447.10v3.8M1563.74 1447.10v3.8M1632.41 1447.10v3.8M1568.22 1447.10v3.8M1636.30 1447.10v3.8M1572.17 1447.10v3.8M1639.73 1447.10v3.8M1663.00 1447.10v3.8M1464.59 1447.10v3.8M1439.34 1447.10v3.8M1473.25 1447.10v3.8M1430.50 1447.10v3.8M1479.23 1447.10v3.8M1424.38 1447.10v3.8M1483.71 1447.10v3.8M1419.81 1447.10v3.8M1487.26 1447.10v3.8M1416.19 1447.10v3.8M1490.19 1447.10v3.8M1413.19 1447.10v3.8M1492.69 1447.10v3.8M1410.64 1447.10v3.8M1494.86 1447.10v3.8M1408.42 1447.10v3.8M1496.78 1447.10v3.8M1406.46 1447.10v3.8" stroke="#111" stroke-width="0.9" fill="none" opacity="0.8"/>
<rect x="1445.70" y="1447.10" width="11.6" height="6.4" fill="#111"/>
<text x="1402.50" y="1471.80" font-size="8.8" fill="#3a3a3a" stroke="#3a3a3a" stroke-width="0.25">-10<tspan dy="-4.2" font-size="7">3</tspan></text>
<text x="1454.50" y="1471.80" font-size="8.8" fill="#3a3a3a" stroke="#3a3a3a" stroke-width="0.25">0</text>
<text x="1497.30" y="1471.80" font-size="8.8" fill="#3a3a3a" stroke="#3a3a3a" stroke-width="0.25">10<tspan dy="-4.2" font-size="7">3</tspan></text>
<text x="1574.70" y="1471.80" font-size="8.8" fill="#3a3a3a" stroke="#3a3a3a" stroke-width="0.25">10<tspan dy="-4.2" font-size="7">4</tspan></text>
<text x="1642.30" y="1471.80" font-size="8.8" fill="#3a3a3a" stroke="#3a3a3a" stroke-width="0.25">10<tspan dy="-4.2" font-size="7">5</tspan></text>
<path d="M1686.70 1447.10v7.2M1734.10 1447.10v7.2M1780.50 1447.10v7.2M1857.70 1447.10v7.2M1924.80 1447.10v7.2" stroke="#111" stroke-width="1.7" fill="none"/>
<path d="M1803.74 1447.10v3.8M1877.90 1447.10v3.8M1817.33 1447.10v3.8M1889.71 1447.10v3.8M1826.98 1447.10v3.8M1898.10 1447.10v3.8M1834.46 1447.10v3.8M1904.60 1447.10v3.8M1840.57 1447.10v3.8M1909.91 1447.10v3.8M1845.74 1447.10v3.8M1914.41 1447.10v3.8M1850.22 1447.10v3.8M1918.30 1447.10v3.8M1854.17 1447.10v3.8M1921.73 1447.10v3.8M1945.00 1447.10v3.8M1746.59 1447.10v3.8M1721.34 1447.10v3.8M1755.25 1447.10v3.8M1712.50 1447.10v3.8M1761.23 1447.10v3.8M1706.38 1447.10v3.8M1765.71 1447.10v3.8M1701.81 1447.10v3.8M1769.26 1447.10v3.8M1698.19 1447.10v3.8M1772.19 1447.10v3.8M1695.19 1447.10v3.8M1774.69 1447.10v3.8M1692.64 1447.10v3.8M1776.86 1447.10v3.8M1690.42 1447.10v3.8M1778.78 1447.10v3.8M1688.46 1447.10v3.8" stroke="#111" stroke-width="0.9" fill="none" opacity="0.8"/>
<rect x="1727.70" y="1447.10" width="11.6" height="6.4" fill="#111"/>
<text x="1684.50" y="1471.80" font-size="8.8" fill="#3a3a3a" stroke="#3a3a3a" stroke-width="0.25">-10<tspan dy="-4.2" font-size="7">3</tspan></text>
<text x="1736.50" y="1471.80" font-size="8.8" fill="#3a3a3a" stroke="#3a3a3a" stroke-width="0.25">0</text>
<text x="1779.30" y="1471.80" font-size="8.8" fill="#3a3a3a" stroke="#3a3a3a" stroke-width="0.25">10<tspan dy="-4.2" font-size="7">3</tspan></text>
<text x="1856.70" y="1471.80" font-size="8.8" fill="#3a3a3a" stroke="#3a3a3a" stroke-width="0.25">10<tspan dy="-4.2" font-size="7">4</tspan></text>
<text x="1924.30" y="1471.80" font-size="8.8" fill="#3a3a3a" stroke="#3a3a3a" stroke-width="0.25">10<tspan dy="-4.2" font-size="7">5</tspan></text>
<path d="M1105.50 1428.80h-7.6M1105.50 1381.40h-7.6M1105.50 1335.00h-7.6M1105.50 1257.80h-7.6M1105.50 1190.70h-7.6" stroke="#111" stroke-width="1.7" fill="none"/>
<path d="M1105.50 1311.76h-3.8M1105.50 1237.60h-3.8M1105.50 1298.17h-3.8M1105.50 1225.79h-3.8M1105.50 1288.52h-3.8M1105.50 1217.40h-3.8M1105.50 1281.04h-3.8M1105.50 1210.90h-3.8M1105.50 1274.93h-3.8M1105.50 1205.59h-3.8M1105.50 1269.76h-3.8M1105.50 1201.09h-3.8M1105.50 1265.28h-3.8M1105.50 1197.20h-3.8M1105.50 1261.33h-3.8M1105.50 1193.77h-3.8M1105.50 1170.50h-3.8M1105.50 1368.91h-3.8M1105.50 1394.16h-3.8M1105.50 1360.25h-3.8M1105.50 1403.00h-3.8M1105.50 1354.27h-3.8M1105.50 1409.12h-3.8M1105.50 1349.79h-3.8M1105.50 1413.69h-3.8M1105.50 1346.24h-3.8M1105.50 1417.31h-3.8M1105.50 1343.31h-3.8M1105.50 1420.31h-3.8M1105.50 1340.81h-3.8M1105.50 1422.86h-3.8M1105.50 1338.64h-3.8M1105.50 1425.08h-3.8M1105.50 1336.72h-3.8M1105.50 1427.04h-3.8" stroke="#111" stroke-width="0.9" fill="none" opacity="0.8"/>
<rect x="1097.80" y="1375.20" width="7.8" height="12" fill="#111"/>
<text x="1076.50" y="1194.90" font-size="8.8" fill="#3a3a3a" stroke="#3a3a3a" stroke-width="0.25">10<tspan dy="-4.2" font-size="7">5</tspan></text>
<text x="1076.50" y="1262.00" font-size="8.8" fill="#3a3a3a" stroke="#3a3a3a" stroke-width="0.25">10<tspan dy="-4.2" font-size="7">4</tspan></text>
<text x="1076.50" y="1339.20" font-size="8.8" fill="#3a3a3a" stroke="#3a3a3a" stroke-width="0.25">10<tspan dy="-4.2" font-size="7">3</tspan></text>
<text x="1081.00" y="1385.40" font-size="8.8" fill="#3a3a3a" stroke="#3a3a3a" stroke-width="0.25">0</text>
<text x="1073.10" y="1433.00" font-size="8.8" fill="#3a3a3a" stroke="#3a3a3a" stroke-width="0.25">-10<tspan dy="-4.2" font-size="7">3</tspan></text>
<text x="1013.40" y="1371.80" font-size="26.6" textLength="53.00" lengthAdjust="spacing">CD8</text>
<text x="1088.40" y="1528.60" font-size="26.6" textLength="53.00" lengthAdjust="spacing">CD4</text>
<path d="M1045.25 1410.30V1484.60H1119.80" stroke="#000" stroke-width="3.4" fill="none" stroke-linejoin="miter"/>
<path d="M1045.25 1390.30l11.3 22.5h-22.6z"/>
<path d="M1139.80 1484.60l-22.5 -11.3v22.6z"/>
<g transform="translate(1970.4 1163.2) rotate(90)">
<text x="0.00" y="0.00" font-size="28.4" textLength="200.50" lengthAdjust="spacing">Gated: live cells</text>
</g>
</svg>
</body></html>
